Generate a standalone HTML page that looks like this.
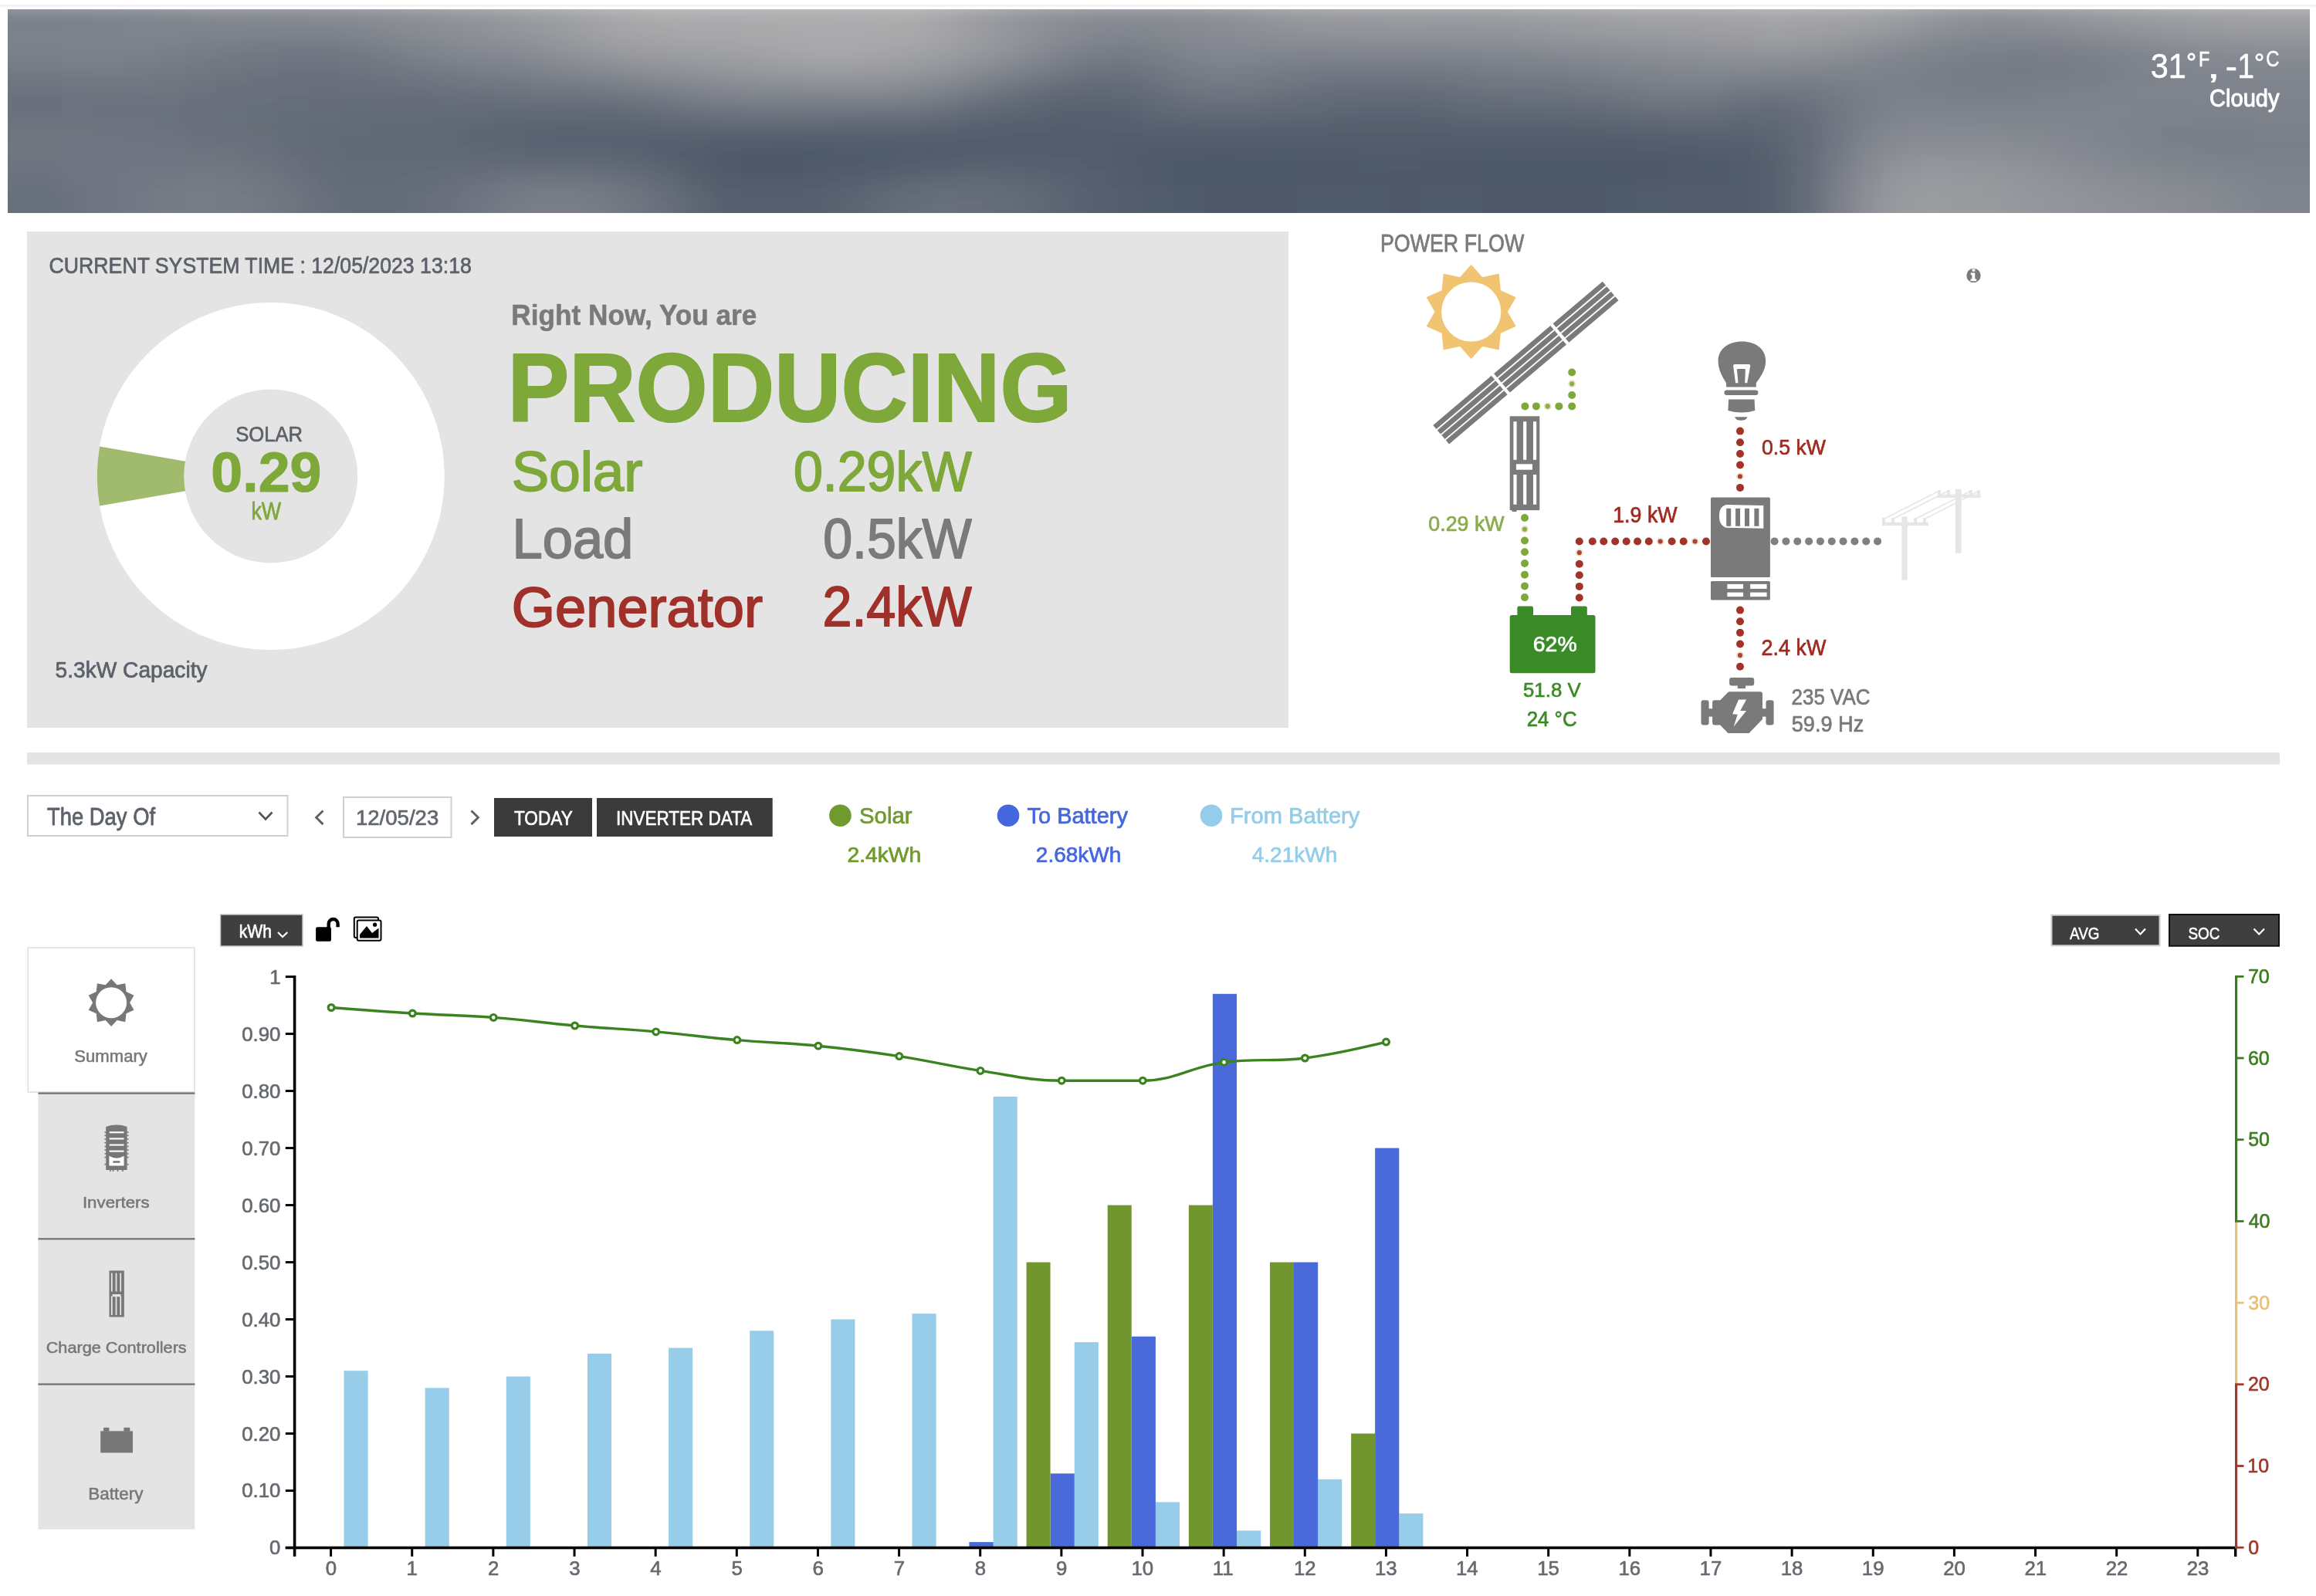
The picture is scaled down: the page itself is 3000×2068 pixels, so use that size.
<!DOCTYPE html>
<html><head><meta charset="utf-8"><title>Power Dashboard</title>
<style>
html,body{margin:0;padding:0;background:#fff;overflow:hidden;}
svg{display:block;font-family:"Liberation Sans",sans-serif;will-change:transform;}
</style></head><body>
<svg width="3000" height="2068" viewBox="0 0 3000 2068">
<defs>
<clipPath id="bannerClip"><rect x="10" y="12" width="2982" height="264"/></clipPath>
<filter id="blur40" x="-10%" y="-50%" width="120%" height="200%"><feGaussianBlur stdDeviation="14"/></filter>
<filter id="blur20" x="-50%" y="-50%" width="200%" height="200%"><feGaussianBlur stdDeviation="20"/></filter>
<linearGradient id="bannerBase" x1="0" y1="0" x2="0" y2="1">
<stop offset="0" stop-color="#858a93"/><stop offset="0.45" stop-color="#66707d"/><stop offset="1" stop-color="#5c6674"/>
</linearGradient>
</defs>
<rect x="0.00" y="6.50" width="3000.00" height="2.00" fill="#efefef" />
<g clip-path="url(#bannerClip)">
<g filter="url(#blur40)">
<rect x="-40.00" y="0.00" width="40.60" height="22.60" fill="#7a8089" />
<rect x="0.00" y="0.00" width="40.60" height="22.60" fill="#7a8089" />
<rect x="40.00" y="0.00" width="40.60" height="22.60" fill="#7a8089" />
<rect x="80.00" y="0.00" width="40.60" height="22.60" fill="#7c818a" />
<rect x="120.00" y="0.00" width="40.60" height="22.60" fill="#7d828b" />
<rect x="160.00" y="0.00" width="40.60" height="22.60" fill="#7e838c" />
<rect x="200.00" y="0.00" width="40.60" height="22.60" fill="#80858d" />
<rect x="240.00" y="0.00" width="40.60" height="22.60" fill="#82868e" />
<rect x="280.00" y="0.00" width="40.60" height="22.60" fill="#83878f" />
<rect x="320.00" y="0.00" width="40.60" height="22.60" fill="#848890" />
<rect x="360.00" y="0.00" width="40.60" height="22.60" fill="#848890" />
<rect x="400.00" y="0.00" width="40.60" height="22.60" fill="#858991" />
<rect x="440.00" y="0.00" width="40.60" height="22.60" fill="#868a92" />
<rect x="480.00" y="0.00" width="40.60" height="22.60" fill="#898c94" />
<rect x="520.00" y="0.00" width="40.60" height="22.60" fill="#8c8f96" />
<rect x="560.00" y="0.00" width="40.60" height="22.60" fill="#8f9298" />
<rect x="600.00" y="0.00" width="40.60" height="22.60" fill="#92959a" />
<rect x="640.00" y="0.00" width="40.60" height="22.60" fill="#96989d" />
<rect x="680.00" y="0.00" width="40.60" height="22.60" fill="#9a9ca0" />
<rect x="720.00" y="0.00" width="40.60" height="22.60" fill="#9fa0a4" />
<rect x="760.00" y="0.00" width="40.60" height="22.60" fill="#a4a5a8" />
<rect x="800.00" y="0.00" width="40.60" height="22.60" fill="#a8a8aa" />
<rect x="840.00" y="0.00" width="40.60" height="22.60" fill="#aaaaac" />
<rect x="880.00" y="0.00" width="40.60" height="22.60" fill="#ababad" />
<rect x="920.00" y="0.00" width="40.60" height="22.60" fill="#acacae" />
<rect x="960.00" y="0.00" width="40.60" height="22.60" fill="#acacae" />
<rect x="1000.00" y="0.00" width="40.60" height="22.60" fill="#ababad" />
<rect x="1040.00" y="0.00" width="40.60" height="22.60" fill="#ababad" />
<rect x="1080.00" y="0.00" width="40.60" height="22.60" fill="#acacae" />
<rect x="1120.00" y="0.00" width="40.60" height="22.60" fill="#acacae" />
<rect x="1160.00" y="0.00" width="40.60" height="22.60" fill="#aaaaac" />
<rect x="1200.00" y="0.00" width="40.60" height="22.60" fill="#a5a6a8" />
<rect x="1240.00" y="0.00" width="40.60" height="22.60" fill="#9d9ea2" />
<rect x="1280.00" y="0.00" width="40.60" height="22.60" fill="#95979d" />
<rect x="1320.00" y="0.00" width="40.60" height="22.60" fill="#8f9298" />
<rect x="1360.00" y="0.00" width="40.60" height="22.60" fill="#8b8e95" />
<rect x="1400.00" y="0.00" width="40.60" height="22.60" fill="#888c93" />
<rect x="1440.00" y="0.00" width="40.60" height="22.60" fill="#878b92" />
<rect x="1480.00" y="0.00" width="40.60" height="22.60" fill="#878b92" />
<rect x="1520.00" y="0.00" width="40.60" height="22.60" fill="#898c93" />
<rect x="1560.00" y="0.00" width="40.60" height="22.60" fill="#8b8f95" />
<rect x="1600.00" y="0.00" width="40.60" height="22.60" fill="#8f9298" />
<rect x="1640.00" y="0.00" width="40.60" height="22.60" fill="#93969b" />
<rect x="1680.00" y="0.00" width="40.60" height="22.60" fill="#96989d" />
<rect x="1720.00" y="0.00" width="40.60" height="22.60" fill="#989a9e" />
<rect x="1760.00" y="0.00" width="40.60" height="22.60" fill="#989a9f" />
<rect x="1800.00" y="0.00" width="40.60" height="22.60" fill="#999b9f" />
<rect x="1840.00" y="0.00" width="40.60" height="22.60" fill="#989a9f" />
<rect x="1880.00" y="0.00" width="40.60" height="22.60" fill="#989a9f" />
<rect x="1920.00" y="0.00" width="40.60" height="22.60" fill="#999b9f" />
<rect x="1960.00" y="0.00" width="40.60" height="22.60" fill="#9a9ca0" />
<rect x="2000.00" y="0.00" width="40.60" height="22.60" fill="#9c9ea2" />
<rect x="2040.00" y="0.00" width="40.60" height="22.60" fill="#9e9fa3" />
<rect x="2080.00" y="0.00" width="40.60" height="22.60" fill="#a0a1a4" />
<rect x="2120.00" y="0.00" width="40.60" height="22.60" fill="#a1a2a5" />
<rect x="2160.00" y="0.00" width="40.60" height="22.60" fill="#a1a2a6" />
<rect x="2200.00" y="0.00" width="40.60" height="22.60" fill="#a2a3a6" />
<rect x="2240.00" y="0.00" width="40.60" height="22.60" fill="#a3a4a7" />
<rect x="2280.00" y="0.00" width="40.60" height="22.60" fill="#a4a5a7" />
<rect x="2320.00" y="0.00" width="40.60" height="22.60" fill="#a4a4a7" />
<rect x="2360.00" y="0.00" width="40.60" height="22.60" fill="#a3a3a6" />
<rect x="2400.00" y="0.00" width="40.60" height="22.60" fill="#a0a1a5" />
<rect x="2440.00" y="0.00" width="40.60" height="22.60" fill="#9b9da1" />
<rect x="2480.00" y="0.00" width="40.60" height="22.60" fill="#95979c" />
<rect x="2520.00" y="0.00" width="40.60" height="22.60" fill="#8f9298" />
<rect x="2560.00" y="0.00" width="40.60" height="22.60" fill="#8d9096" />
<rect x="2600.00" y="0.00" width="40.60" height="22.60" fill="#8e9197" />
<rect x="2640.00" y="0.00" width="40.60" height="22.60" fill="#919499" />
<rect x="2680.00" y="0.00" width="40.60" height="22.60" fill="#94969c" />
<rect x="2720.00" y="0.00" width="40.60" height="22.60" fill="#97999e" />
<rect x="2760.00" y="0.00" width="40.60" height="22.60" fill="#9a9ca0" />
<rect x="2800.00" y="0.00" width="40.60" height="22.60" fill="#9c9ea2" />
<rect x="2840.00" y="0.00" width="40.60" height="22.60" fill="#9ea0a3" />
<rect x="2880.00" y="0.00" width="40.60" height="22.60" fill="#a0a1a4" />
<rect x="2920.00" y="0.00" width="40.60" height="22.60" fill="#a0a1a5" />
<rect x="2960.00" y="0.00" width="40.60" height="22.60" fill="#a0a1a5" />
<rect x="3000.00" y="0.00" width="40.60" height="22.60" fill="#a0a1a5" />
<rect x="-40.00" y="22.00" width="40.60" height="22.60" fill="#7b8089" />
<rect x="0.00" y="22.00" width="40.60" height="22.60" fill="#7b8089" />
<rect x="40.00" y="22.00" width="40.60" height="22.60" fill="#7b8089" />
<rect x="80.00" y="22.00" width="40.60" height="22.60" fill="#7c818a" />
<rect x="120.00" y="22.00" width="40.60" height="22.60" fill="#7d828b" />
<rect x="160.00" y="22.00" width="40.60" height="22.60" fill="#7f838c" />
<rect x="200.00" y="22.00" width="40.60" height="22.60" fill="#80848d" />
<rect x="240.00" y="22.00" width="40.60" height="22.60" fill="#81868e" />
<rect x="280.00" y="22.00" width="40.60" height="22.60" fill="#82868f" />
<rect x="320.00" y="22.00" width="40.60" height="22.60" fill="#83878f" />
<rect x="360.00" y="22.00" width="40.60" height="22.60" fill="#83878f" />
<rect x="400.00" y="22.00" width="40.60" height="22.60" fill="#848890" />
<rect x="440.00" y="22.00" width="40.60" height="22.60" fill="#858991" />
<rect x="480.00" y="22.00" width="40.60" height="22.60" fill="#888c93" />
<rect x="520.00" y="22.00" width="40.60" height="22.60" fill="#8b8e95" />
<rect x="560.00" y="22.00" width="40.60" height="22.60" fill="#8e9197" />
<rect x="600.00" y="22.00" width="40.60" height="22.60" fill="#91949a" />
<rect x="640.00" y="22.00" width="40.60" height="22.60" fill="#95979c" />
<rect x="680.00" y="22.00" width="40.60" height="22.60" fill="#999ba0" />
<rect x="720.00" y="22.00" width="40.60" height="22.60" fill="#9ea0a3" />
<rect x="760.00" y="22.00" width="40.60" height="22.60" fill="#a4a4a7" />
<rect x="800.00" y="22.00" width="40.60" height="22.60" fill="#a7a8aa" />
<rect x="840.00" y="22.00" width="40.60" height="22.60" fill="#aaaaac" />
<rect x="880.00" y="22.00" width="40.60" height="22.60" fill="#ababad" />
<rect x="920.00" y="22.00" width="40.60" height="22.60" fill="#ababad" />
<rect x="960.00" y="22.00" width="40.60" height="22.60" fill="#ababad" />
<rect x="1000.00" y="22.00" width="40.60" height="22.60" fill="#acacae" />
<rect x="1040.00" y="22.00" width="40.60" height="22.60" fill="#acacae" />
<rect x="1080.00" y="22.00" width="40.60" height="22.60" fill="#acacae" />
<rect x="1120.00" y="22.00" width="40.60" height="22.60" fill="#acacae" />
<rect x="1160.00" y="22.00" width="40.60" height="22.60" fill="#aaaaac" />
<rect x="1200.00" y="22.00" width="40.60" height="22.60" fill="#a5a5a8" />
<rect x="1240.00" y="22.00" width="40.60" height="22.60" fill="#9d9ea2" />
<rect x="1280.00" y="22.00" width="40.60" height="22.60" fill="#95989d" />
<rect x="1320.00" y="22.00" width="40.60" height="22.60" fill="#8f9298" />
<rect x="1360.00" y="22.00" width="40.60" height="22.60" fill="#8b8e95" />
<rect x="1400.00" y="22.00" width="40.60" height="22.60" fill="#888b93" />
<rect x="1440.00" y="22.00" width="40.60" height="22.60" fill="#868a92" />
<rect x="1480.00" y="22.00" width="40.60" height="22.60" fill="#878b92" />
<rect x="1520.00" y="22.00" width="40.60" height="22.60" fill="#888c93" />
<rect x="1560.00" y="22.00" width="40.60" height="22.60" fill="#8b8e95" />
<rect x="1600.00" y="22.00" width="40.60" height="22.60" fill="#8e9198" />
<rect x="1640.00" y="22.00" width="40.60" height="22.60" fill="#92959a" />
<rect x="1680.00" y="22.00" width="40.60" height="22.60" fill="#95979c" />
<rect x="1720.00" y="22.00" width="40.60" height="22.60" fill="#96989d" />
<rect x="1760.00" y="22.00" width="40.60" height="22.60" fill="#97999e" />
<rect x="1800.00" y="22.00" width="40.60" height="22.60" fill="#97999e" />
<rect x="1840.00" y="22.00" width="40.60" height="22.60" fill="#97999e" />
<rect x="1880.00" y="22.00" width="40.60" height="22.60" fill="#97999e" />
<rect x="1920.00" y="22.00" width="40.60" height="22.60" fill="#97999e" />
<rect x="1960.00" y="22.00" width="40.60" height="22.60" fill="#999b9f" />
<rect x="2000.00" y="22.00" width="40.60" height="22.60" fill="#9b9da1" />
<rect x="2040.00" y="22.00" width="40.60" height="22.60" fill="#9d9ea2" />
<rect x="2080.00" y="22.00" width="40.60" height="22.60" fill="#9ea0a3" />
<rect x="2120.00" y="22.00" width="40.60" height="22.60" fill="#9fa0a4" />
<rect x="2160.00" y="22.00" width="40.60" height="22.60" fill="#a0a1a5" />
<rect x="2200.00" y="22.00" width="40.60" height="22.60" fill="#a1a2a6" />
<rect x="2240.00" y="22.00" width="40.60" height="22.60" fill="#a3a3a6" />
<rect x="2280.00" y="22.00" width="40.60" height="22.60" fill="#a3a4a7" />
<rect x="2320.00" y="22.00" width="40.60" height="22.60" fill="#a3a3a6" />
<rect x="2360.00" y="22.00" width="40.60" height="22.60" fill="#a1a2a5" />
<rect x="2400.00" y="22.00" width="40.60" height="22.60" fill="#9ea0a3" />
<rect x="2440.00" y="22.00" width="40.60" height="22.60" fill="#9a9ba0" />
<rect x="2480.00" y="22.00" width="40.60" height="22.60" fill="#93969b" />
<rect x="2520.00" y="22.00" width="40.60" height="22.60" fill="#8e9197" />
<rect x="2560.00" y="22.00" width="40.60" height="22.60" fill="#8b8f95" />
<rect x="2600.00" y="22.00" width="40.60" height="22.60" fill="#8c8f96" />
<rect x="2640.00" y="22.00" width="40.60" height="22.60" fill="#8f9298" />
<rect x="2680.00" y="22.00" width="40.60" height="22.60" fill="#92959a" />
<rect x="2720.00" y="22.00" width="40.60" height="22.60" fill="#95979d" />
<rect x="2760.00" y="22.00" width="40.60" height="22.60" fill="#989a9f" />
<rect x="2800.00" y="22.00" width="40.60" height="22.60" fill="#9b9ca1" />
<rect x="2840.00" y="22.00" width="40.60" height="22.60" fill="#9d9ea2" />
<rect x="2880.00" y="22.00" width="40.60" height="22.60" fill="#9e9fa3" />
<rect x="2920.00" y="22.00" width="40.60" height="22.60" fill="#9fa0a4" />
<rect x="2960.00" y="22.00" width="40.60" height="22.60" fill="#9fa0a4" />
<rect x="3000.00" y="22.00" width="40.60" height="22.60" fill="#9fa0a4" />
<rect x="-40.00" y="44.00" width="40.60" height="22.60" fill="#7d828b" />
<rect x="0.00" y="44.00" width="40.60" height="22.60" fill="#7d828b" />
<rect x="40.00" y="44.00" width="40.60" height="22.60" fill="#7d828b" />
<rect x="80.00" y="44.00" width="40.60" height="22.60" fill="#7e838c" />
<rect x="120.00" y="44.00" width="40.60" height="22.60" fill="#7e838c" />
<rect x="160.00" y="44.00" width="40.60" height="22.60" fill="#7e838c" />
<rect x="200.00" y="44.00" width="40.60" height="22.60" fill="#7d828b" />
<rect x="240.00" y="44.00" width="40.60" height="22.60" fill="#7b8089" />
<rect x="280.00" y="44.00" width="40.60" height="22.60" fill="#797e88" />
<rect x="320.00" y="44.00" width="40.60" height="22.60" fill="#777d87" />
<rect x="360.00" y="44.00" width="40.60" height="22.60" fill="#767c86" />
<rect x="400.00" y="44.00" width="40.60" height="22.60" fill="#767c86" />
<rect x="440.00" y="44.00" width="40.60" height="22.60" fill="#797e88" />
<rect x="480.00" y="44.00" width="40.60" height="22.60" fill="#7d828b" />
<rect x="520.00" y="44.00" width="40.60" height="22.60" fill="#82878f" />
<rect x="560.00" y="44.00" width="40.60" height="22.60" fill="#868a92" />
<rect x="600.00" y="44.00" width="40.60" height="22.60" fill="#898d94" />
<rect x="640.00" y="44.00" width="40.60" height="22.60" fill="#8c8f96" />
<rect x="680.00" y="44.00" width="40.60" height="22.60" fill="#909399" />
<rect x="720.00" y="44.00" width="40.60" height="22.60" fill="#96989d" />
<rect x="760.00" y="44.00" width="40.60" height="22.60" fill="#9c9ea2" />
<rect x="800.00" y="44.00" width="40.60" height="22.60" fill="#a0a1a5" />
<rect x="840.00" y="44.00" width="40.60" height="22.60" fill="#a3a3a6" />
<rect x="880.00" y="44.00" width="40.60" height="22.60" fill="#a3a4a7" />
<rect x="920.00" y="44.00" width="40.60" height="22.60" fill="#a5a5a8" />
<rect x="960.00" y="44.00" width="40.60" height="22.60" fill="#a7a7a9" />
<rect x="1000.00" y="44.00" width="40.60" height="22.60" fill="#a9a9ab" />
<rect x="1040.00" y="44.00" width="40.60" height="22.60" fill="#ababad" />
<rect x="1080.00" y="44.00" width="40.60" height="22.60" fill="#ababad" />
<rect x="1120.00" y="44.00" width="40.60" height="22.60" fill="#a9a9ab" />
<rect x="1160.00" y="44.00" width="40.60" height="22.60" fill="#a6a7a9" />
<rect x="1200.00" y="44.00" width="40.60" height="22.60" fill="#a2a3a6" />
<rect x="1240.00" y="44.00" width="40.60" height="22.60" fill="#9b9da1" />
<rect x="1280.00" y="44.00" width="40.60" height="22.60" fill="#94969c" />
<rect x="1320.00" y="44.00" width="40.60" height="22.60" fill="#8c8f96" />
<rect x="1360.00" y="44.00" width="40.60" height="22.60" fill="#848890" />
<rect x="1400.00" y="44.00" width="40.60" height="22.60" fill="#7e838c" />
<rect x="1440.00" y="44.00" width="40.60" height="22.60" fill="#7c818a" />
<rect x="1480.00" y="44.00" width="40.60" height="22.60" fill="#7f848c" />
<rect x="1520.00" y="44.00" width="40.60" height="22.60" fill="#83878f" />
<rect x="1560.00" y="44.00" width="40.60" height="22.60" fill="#858991" />
<rect x="1600.00" y="44.00" width="40.60" height="22.60" fill="#878a92" />
<rect x="1640.00" y="44.00" width="40.60" height="22.60" fill="#878b92" />
<rect x="1680.00" y="44.00" width="40.60" height="22.60" fill="#878b92" />
<rect x="1720.00" y="44.00" width="40.60" height="22.60" fill="#888c93" />
<rect x="1760.00" y="44.00" width="40.60" height="22.60" fill="#898c93" />
<rect x="1800.00" y="44.00" width="40.60" height="22.60" fill="#898d94" />
<rect x="1840.00" y="44.00" width="40.60" height="22.60" fill="#898d94" />
<rect x="1880.00" y="44.00" width="40.60" height="22.60" fill="#898d94" />
<rect x="1920.00" y="44.00" width="40.60" height="22.60" fill="#8a8d94" />
<rect x="1960.00" y="44.00" width="40.60" height="22.60" fill="#8b8f95" />
<rect x="2000.00" y="44.00" width="40.60" height="22.60" fill="#8e9197" />
<rect x="2040.00" y="44.00" width="40.60" height="22.60" fill="#8f9298" />
<rect x="2080.00" y="44.00" width="40.60" height="22.60" fill="#91949a" />
<rect x="2120.00" y="44.00" width="40.60" height="22.60" fill="#92959a" />
<rect x="2160.00" y="44.00" width="40.60" height="22.60" fill="#94969c" />
<rect x="2200.00" y="44.00" width="40.60" height="22.60" fill="#96989d" />
<rect x="2240.00" y="44.00" width="40.60" height="22.60" fill="#989a9f" />
<rect x="2280.00" y="44.00" width="40.60" height="22.60" fill="#999ba0" />
<rect x="2320.00" y="44.00" width="40.60" height="22.60" fill="#989a9e" />
<rect x="2360.00" y="44.00" width="40.60" height="22.60" fill="#94969b" />
<rect x="2400.00" y="44.00" width="40.60" height="22.60" fill="#8e9198" />
<rect x="2440.00" y="44.00" width="40.60" height="22.60" fill="#898d94" />
<rect x="2480.00" y="44.00" width="40.60" height="22.60" fill="#848990" />
<rect x="2520.00" y="44.00" width="40.60" height="22.60" fill="#80858d" />
<rect x="2560.00" y="44.00" width="40.60" height="22.60" fill="#7e838c" />
<rect x="2600.00" y="44.00" width="40.60" height="22.60" fill="#7e838b" />
<rect x="2640.00" y="44.00" width="40.60" height="22.60" fill="#7f838c" />
<rect x="2680.00" y="44.00" width="40.60" height="22.60" fill="#81858e" />
<rect x="2720.00" y="44.00" width="40.60" height="22.60" fill="#848890" />
<rect x="2760.00" y="44.00" width="40.60" height="22.60" fill="#878b92" />
<rect x="2800.00" y="44.00" width="40.60" height="22.60" fill="#8a8e95" />
<rect x="2840.00" y="44.00" width="40.60" height="22.60" fill="#8c9096" />
<rect x="2880.00" y="44.00" width="40.60" height="22.60" fill="#8e9197" />
<rect x="2920.00" y="44.00" width="40.60" height="22.60" fill="#8f9298" />
<rect x="2960.00" y="44.00" width="40.60" height="22.60" fill="#8f9298" />
<rect x="3000.00" y="44.00" width="40.60" height="22.60" fill="#8f9298" />
<rect x="-40.00" y="66.00" width="40.60" height="22.60" fill="#7a7f88" />
<rect x="0.00" y="66.00" width="40.60" height="22.60" fill="#7a7f88" />
<rect x="40.00" y="66.00" width="40.60" height="22.60" fill="#7a7f88" />
<rect x="80.00" y="66.00" width="40.60" height="22.60" fill="#7b8089" />
<rect x="120.00" y="66.00" width="40.60" height="22.60" fill="#7b8089" />
<rect x="160.00" y="66.00" width="40.60" height="22.60" fill="#7a7f89" />
<rect x="200.00" y="66.00" width="40.60" height="22.60" fill="#787d87" />
<rect x="240.00" y="66.00" width="40.60" height="22.60" fill="#757a85" />
<rect x="280.00" y="66.00" width="40.60" height="22.60" fill="#717882" />
<rect x="320.00" y="66.00" width="40.60" height="22.60" fill="#6f7681" />
<rect x="360.00" y="66.00" width="40.60" height="22.60" fill="#6e7480" />
<rect x="400.00" y="66.00" width="40.60" height="22.60" fill="#6e7480" />
<rect x="440.00" y="66.00" width="40.60" height="22.60" fill="#707681" />
<rect x="480.00" y="66.00" width="40.60" height="22.60" fill="#747a85" />
<rect x="520.00" y="66.00" width="40.60" height="22.60" fill="#797f88" />
<rect x="560.00" y="66.00" width="40.60" height="22.60" fill="#7d828b" />
<rect x="600.00" y="66.00" width="40.60" height="22.60" fill="#80848d" />
<rect x="640.00" y="66.00" width="40.60" height="22.60" fill="#82868f" />
<rect x="680.00" y="66.00" width="40.60" height="22.60" fill="#868a91" />
<rect x="720.00" y="66.00" width="40.60" height="22.60" fill="#8b8e95" />
<rect x="760.00" y="66.00" width="40.60" height="22.60" fill="#909399" />
<rect x="800.00" y="66.00" width="40.60" height="22.60" fill="#95979c" />
<rect x="840.00" y="66.00" width="40.60" height="22.60" fill="#97999e" />
<rect x="880.00" y="66.00" width="40.60" height="22.60" fill="#999b9f" />
<rect x="920.00" y="66.00" width="40.60" height="22.60" fill="#9b9da1" />
<rect x="960.00" y="66.00" width="40.60" height="22.60" fill="#9e9fa3" />
<rect x="1000.00" y="66.00" width="40.60" height="22.60" fill="#a1a2a5" />
<rect x="1040.00" y="66.00" width="40.60" height="22.60" fill="#a3a4a7" />
<rect x="1080.00" y="66.00" width="40.60" height="22.60" fill="#a3a4a7" />
<rect x="1120.00" y="66.00" width="40.60" height="22.60" fill="#a1a2a5" />
<rect x="1160.00" y="66.00" width="40.60" height="22.60" fill="#9e9fa3" />
<rect x="1200.00" y="66.00" width="40.60" height="22.60" fill="#999ba0" />
<rect x="1240.00" y="66.00" width="40.60" height="22.60" fill="#93959b" />
<rect x="1280.00" y="66.00" width="40.60" height="22.60" fill="#8b8f95" />
<rect x="1320.00" y="66.00" width="40.60" height="22.60" fill="#83878f" />
<rect x="1360.00" y="66.00" width="40.60" height="22.60" fill="#7a7f89" />
<rect x="1400.00" y="66.00" width="40.60" height="22.60" fill="#747a84" />
<rect x="1440.00" y="66.00" width="40.60" height="22.60" fill="#737983" />
<rect x="1480.00" y="66.00" width="40.60" height="22.60" fill="#777d86" />
<rect x="1520.00" y="66.00" width="40.60" height="22.60" fill="#7c818a" />
<rect x="1560.00" y="66.00" width="40.60" height="22.60" fill="#7f848c" />
<rect x="1600.00" y="66.00" width="40.60" height="22.60" fill="#7e838c" />
<rect x="1640.00" y="66.00" width="40.60" height="22.60" fill="#7c818a" />
<rect x="1680.00" y="66.00" width="40.60" height="22.60" fill="#7b808a" />
<rect x="1720.00" y="66.00" width="40.60" height="22.60" fill="#7b8089" />
<rect x="1760.00" y="66.00" width="40.60" height="22.60" fill="#7b8089" />
<rect x="1800.00" y="66.00" width="40.60" height="22.60" fill="#7b808a" />
<rect x="1840.00" y="66.00" width="40.60" height="22.60" fill="#7c818a" />
<rect x="1880.00" y="66.00" width="40.60" height="22.60" fill="#7d828b" />
<rect x="1920.00" y="66.00" width="40.60" height="22.60" fill="#7e838b" />
<rect x="1960.00" y="66.00" width="40.60" height="22.60" fill="#7f848d" />
<rect x="2000.00" y="66.00" width="40.60" height="22.60" fill="#81868e" />
<rect x="2040.00" y="66.00" width="40.60" height="22.60" fill="#83878f" />
<rect x="2080.00" y="66.00" width="40.60" height="22.60" fill="#858991" />
<rect x="2120.00" y="66.00" width="40.60" height="22.60" fill="#878b92" />
<rect x="2160.00" y="66.00" width="40.60" height="22.60" fill="#898c93" />
<rect x="2200.00" y="66.00" width="40.60" height="22.60" fill="#8a8e95" />
<rect x="2240.00" y="66.00" width="40.60" height="22.60" fill="#8c8f96" />
<rect x="2280.00" y="66.00" width="40.60" height="22.60" fill="#8c9096" />
<rect x="2320.00" y="66.00" width="40.60" height="22.60" fill="#8b8e95" />
<rect x="2360.00" y="66.00" width="40.60" height="22.60" fill="#878b92" />
<rect x="2400.00" y="66.00" width="40.60" height="22.60" fill="#83878f" />
<rect x="2440.00" y="66.00" width="40.60" height="22.60" fill="#7f848c" />
<rect x="2480.00" y="66.00" width="40.60" height="22.60" fill="#7c818a" />
<rect x="2520.00" y="66.00" width="40.60" height="22.60" fill="#797e88" />
<rect x="2560.00" y="66.00" width="40.60" height="22.60" fill="#777d86" />
<rect x="2600.00" y="66.00" width="40.60" height="22.60" fill="#767c86" />
<rect x="2640.00" y="66.00" width="40.60" height="22.60" fill="#777c86" />
<rect x="2680.00" y="66.00" width="40.60" height="22.60" fill="#787e87" />
<rect x="2720.00" y="66.00" width="40.60" height="22.60" fill="#7b8089" />
<rect x="2760.00" y="66.00" width="40.60" height="22.60" fill="#7e838c" />
<rect x="2800.00" y="66.00" width="40.60" height="22.60" fill="#81858e" />
<rect x="2840.00" y="66.00" width="40.60" height="22.60" fill="#83878f" />
<rect x="2880.00" y="66.00" width="40.60" height="22.60" fill="#848890" />
<rect x="2920.00" y="66.00" width="40.60" height="22.60" fill="#858991" />
<rect x="2960.00" y="66.00" width="40.60" height="22.60" fill="#858991" />
<rect x="3000.00" y="66.00" width="40.60" height="22.60" fill="#858991" />
<rect x="-40.00" y="88.00" width="40.60" height="22.60" fill="#727883" />
<rect x="0.00" y="88.00" width="40.60" height="22.60" fill="#727883" />
<rect x="40.00" y="88.00" width="40.60" height="22.60" fill="#727883" />
<rect x="80.00" y="88.00" width="40.60" height="22.60" fill="#737984" />
<rect x="120.00" y="88.00" width="40.60" height="22.60" fill="#747a84" />
<rect x="160.00" y="88.00" width="40.60" height="22.60" fill="#737984" />
<rect x="200.00" y="88.00" width="40.60" height="22.60" fill="#717882" />
<rect x="240.00" y="88.00" width="40.60" height="22.60" fill="#6f7580" />
<rect x="280.00" y="88.00" width="40.60" height="22.60" fill="#6c737f" />
<rect x="320.00" y="88.00" width="40.60" height="22.60" fill="#6a717d" />
<rect x="360.00" y="88.00" width="40.60" height="22.60" fill="#69707c" />
<rect x="400.00" y="88.00" width="40.60" height="22.60" fill="#69707c" />
<rect x="440.00" y="88.00" width="40.60" height="22.60" fill="#6a717d" />
<rect x="480.00" y="88.00" width="40.60" height="22.60" fill="#6c737f" />
<rect x="520.00" y="88.00" width="40.60" height="22.60" fill="#6f7681" />
<rect x="560.00" y="88.00" width="40.60" height="22.60" fill="#727883" />
<rect x="600.00" y="88.00" width="40.60" height="22.60" fill="#747a85" />
<rect x="640.00" y="88.00" width="40.60" height="22.60" fill="#777c86" />
<rect x="680.00" y="88.00" width="40.60" height="22.60" fill="#797f88" />
<rect x="720.00" y="88.00" width="40.60" height="22.60" fill="#7d828b" />
<rect x="760.00" y="88.00" width="40.60" height="22.60" fill="#80858d" />
<rect x="800.00" y="88.00" width="40.60" height="22.60" fill="#848890" />
<rect x="840.00" y="88.00" width="40.60" height="22.60" fill="#888c93" />
<rect x="880.00" y="88.00" width="40.60" height="22.60" fill="#8b8f95" />
<rect x="920.00" y="88.00" width="40.60" height="22.60" fill="#8f9298" />
<rect x="960.00" y="88.00" width="40.60" height="22.60" fill="#91949a" />
<rect x="1000.00" y="88.00" width="40.60" height="22.60" fill="#93969b" />
<rect x="1040.00" y="88.00" width="40.60" height="22.60" fill="#94979c" />
<rect x="1080.00" y="88.00" width="40.60" height="22.60" fill="#95979c" />
<rect x="1120.00" y="88.00" width="40.60" height="22.60" fill="#94969c" />
<rect x="1160.00" y="88.00" width="40.60" height="22.60" fill="#91949a" />
<rect x="1200.00" y="88.00" width="40.60" height="22.60" fill="#8c8f96" />
<rect x="1240.00" y="88.00" width="40.60" height="22.60" fill="#848890" />
<rect x="1280.00" y="88.00" width="40.60" height="22.60" fill="#7c818a" />
<rect x="1320.00" y="88.00" width="40.60" height="22.60" fill="#747a84" />
<rect x="1360.00" y="88.00" width="40.60" height="22.60" fill="#6d737f" />
<rect x="1400.00" y="88.00" width="40.60" height="22.60" fill="#686f7c" />
<rect x="1440.00" y="88.00" width="40.60" height="22.60" fill="#69707c" />
<rect x="1480.00" y="88.00" width="40.60" height="22.60" fill="#6e7580" />
<rect x="1520.00" y="88.00" width="40.60" height="22.60" fill="#757a85" />
<rect x="1560.00" y="88.00" width="40.60" height="22.60" fill="#777d87" />
<rect x="1600.00" y="88.00" width="40.60" height="22.60" fill="#767c86" />
<rect x="1640.00" y="88.00" width="40.60" height="22.60" fill="#737983" />
<rect x="1680.00" y="88.00" width="40.60" height="22.60" fill="#707782" />
<rect x="1720.00" y="88.00" width="40.60" height="22.60" fill="#6f7581" />
<rect x="1760.00" y="88.00" width="40.60" height="22.60" fill="#6e7580" />
<rect x="1800.00" y="88.00" width="40.60" height="22.60" fill="#6f7580" />
<rect x="1840.00" y="88.00" width="40.60" height="22.60" fill="#707681" />
<rect x="1880.00" y="88.00" width="40.60" height="22.60" fill="#727883" />
<rect x="1920.00" y="88.00" width="40.60" height="22.60" fill="#747a84" />
<rect x="1960.00" y="88.00" width="40.60" height="22.60" fill="#757b85" />
<rect x="2000.00" y="88.00" width="40.60" height="22.60" fill="#767c86" />
<rect x="2040.00" y="88.00" width="40.60" height="22.60" fill="#787e87" />
<rect x="2080.00" y="88.00" width="40.60" height="22.60" fill="#7b8089" />
<rect x="2120.00" y="88.00" width="40.60" height="22.60" fill="#7d828b" />
<rect x="2160.00" y="88.00" width="40.60" height="22.60" fill="#7f848c" />
<rect x="2200.00" y="88.00" width="40.60" height="22.60" fill="#7f848d" />
<rect x="2240.00" y="88.00" width="40.60" height="22.60" fill="#7e838c" />
<rect x="2280.00" y="88.00" width="40.60" height="22.60" fill="#7d828b" />
<rect x="2320.00" y="88.00" width="40.60" height="22.60" fill="#7c818a" />
<rect x="2360.00" y="88.00" width="40.60" height="22.60" fill="#7c818a" />
<rect x="2400.00" y="88.00" width="40.60" height="22.60" fill="#7c818a" />
<rect x="2440.00" y="88.00" width="40.60" height="22.60" fill="#7b8089" />
<rect x="2480.00" y="88.00" width="40.60" height="22.60" fill="#797e88" />
<rect x="2520.00" y="88.00" width="40.60" height="22.60" fill="#777c86" />
<rect x="2560.00" y="88.00" width="40.60" height="22.60" fill="#767b85" />
<rect x="2600.00" y="88.00" width="40.60" height="22.60" fill="#767c86" />
<rect x="2640.00" y="88.00" width="40.60" height="22.60" fill="#777c86" />
<rect x="2680.00" y="88.00" width="40.60" height="22.60" fill="#787e87" />
<rect x="2720.00" y="88.00" width="40.60" height="22.60" fill="#7a8089" />
<rect x="2760.00" y="88.00" width="40.60" height="22.60" fill="#7d828b" />
<rect x="2800.00" y="88.00" width="40.60" height="22.60" fill="#7f838c" />
<rect x="2840.00" y="88.00" width="40.60" height="22.60" fill="#80848d" />
<rect x="2880.00" y="88.00" width="40.60" height="22.60" fill="#80858d" />
<rect x="2920.00" y="88.00" width="40.60" height="22.60" fill="#80858d" />
<rect x="2960.00" y="88.00" width="40.60" height="22.60" fill="#80858d" />
<rect x="3000.00" y="88.00" width="40.60" height="22.60" fill="#80858d" />
<rect x="-40.00" y="110.00" width="40.60" height="22.60" fill="#6a717d" />
<rect x="0.00" y="110.00" width="40.60" height="22.60" fill="#6a717d" />
<rect x="40.00" y="110.00" width="40.60" height="22.60" fill="#6a717d" />
<rect x="80.00" y="110.00" width="40.60" height="22.60" fill="#6c727e" />
<rect x="120.00" y="110.00" width="40.60" height="22.60" fill="#6c737f" />
<rect x="160.00" y="110.00" width="40.60" height="22.60" fill="#6c737f" />
<rect x="200.00" y="110.00" width="40.60" height="22.60" fill="#6c737e" />
<rect x="240.00" y="110.00" width="40.60" height="22.60" fill="#6a717d" />
<rect x="280.00" y="110.00" width="40.60" height="22.60" fill="#69707c" />
<rect x="320.00" y="110.00" width="40.60" height="22.60" fill="#686f7b" />
<rect x="360.00" y="110.00" width="40.60" height="22.60" fill="#676f7b" />
<rect x="400.00" y="110.00" width="40.60" height="22.60" fill="#676e7a" />
<rect x="440.00" y="110.00" width="40.60" height="22.60" fill="#666e7a" />
<rect x="480.00" y="110.00" width="40.60" height="22.60" fill="#666e7a" />
<rect x="520.00" y="110.00" width="40.60" height="22.60" fill="#676e7b" />
<rect x="560.00" y="110.00" width="40.60" height="22.60" fill="#686f7b" />
<rect x="600.00" y="110.00" width="40.60" height="22.60" fill="#6a717d" />
<rect x="640.00" y="110.00" width="40.60" height="22.60" fill="#6b727e" />
<rect x="680.00" y="110.00" width="40.60" height="22.60" fill="#6d747f" />
<rect x="720.00" y="110.00" width="40.60" height="22.60" fill="#6e7580" />
<rect x="760.00" y="110.00" width="40.60" height="22.60" fill="#707681" />
<rect x="800.00" y="110.00" width="40.60" height="22.60" fill="#727983" />
<rect x="840.00" y="110.00" width="40.60" height="22.60" fill="#777c86" />
<rect x="880.00" y="110.00" width="40.60" height="22.60" fill="#7c818a" />
<rect x="920.00" y="110.00" width="40.60" height="22.60" fill="#80848d" />
<rect x="960.00" y="110.00" width="40.60" height="22.60" fill="#82868e" />
<rect x="1000.00" y="110.00" width="40.60" height="22.60" fill="#82868e" />
<rect x="1040.00" y="110.00" width="40.60" height="22.60" fill="#82878f" />
<rect x="1080.00" y="110.00" width="40.60" height="22.60" fill="#83878f" />
<rect x="1120.00" y="110.00" width="40.60" height="22.60" fill="#83878f" />
<rect x="1160.00" y="110.00" width="40.60" height="22.60" fill="#80858d" />
<rect x="1200.00" y="110.00" width="40.60" height="22.60" fill="#7b8089" />
<rect x="1240.00" y="110.00" width="40.60" height="22.60" fill="#737983" />
<rect x="1280.00" y="110.00" width="40.60" height="22.60" fill="#6b727d" />
<rect x="1320.00" y="110.00" width="40.60" height="22.60" fill="#646c79" />
<rect x="1360.00" y="110.00" width="40.60" height="22.60" fill="#606875" />
<rect x="1400.00" y="110.00" width="40.60" height="22.60" fill="#5e6674" />
<rect x="1440.00" y="110.00" width="40.60" height="22.60" fill="#606876" />
<rect x="1480.00" y="110.00" width="40.60" height="22.60" fill="#666d7a" />
<rect x="1520.00" y="110.00" width="40.60" height="22.60" fill="#6c737e" />
<rect x="1560.00" y="110.00" width="40.60" height="22.60" fill="#6e7580" />
<rect x="1600.00" y="110.00" width="40.60" height="22.60" fill="#6d747f" />
<rect x="1640.00" y="110.00" width="40.60" height="22.60" fill="#6a717d" />
<rect x="1680.00" y="110.00" width="40.60" height="22.60" fill="#676e7b" />
<rect x="1720.00" y="110.00" width="40.60" height="22.60" fill="#656c79" />
<rect x="1760.00" y="110.00" width="40.60" height="22.60" fill="#636b78" />
<rect x="1800.00" y="110.00" width="40.60" height="22.60" fill="#636b78" />
<rect x="1840.00" y="110.00" width="40.60" height="22.60" fill="#656d79" />
<rect x="1880.00" y="110.00" width="40.60" height="22.60" fill="#686f7b" />
<rect x="1920.00" y="110.00" width="40.60" height="22.60" fill="#6a717d" />
<rect x="1960.00" y="110.00" width="40.60" height="22.60" fill="#6b727e" />
<rect x="2000.00" y="110.00" width="40.60" height="22.60" fill="#6c737e" />
<rect x="2040.00" y="110.00" width="40.60" height="22.60" fill="#6d747f" />
<rect x="2080.00" y="110.00" width="40.60" height="22.60" fill="#707782" />
<rect x="2120.00" y="110.00" width="40.60" height="22.60" fill="#747a84" />
<rect x="2160.00" y="110.00" width="40.60" height="22.60" fill="#767b85" />
<rect x="2200.00" y="110.00" width="40.60" height="22.60" fill="#747a84" />
<rect x="2240.00" y="110.00" width="40.60" height="22.60" fill="#707681" />
<rect x="2280.00" y="110.00" width="40.60" height="22.60" fill="#6e7480" />
<rect x="2320.00" y="110.00" width="40.60" height="22.60" fill="#6f7681" />
<rect x="2360.00" y="110.00" width="40.60" height="22.60" fill="#747a84" />
<rect x="2400.00" y="110.00" width="40.60" height="22.60" fill="#797e88" />
<rect x="2440.00" y="110.00" width="40.60" height="22.60" fill="#7b8089" />
<rect x="2480.00" y="110.00" width="40.60" height="22.60" fill="#7a8089" />
<rect x="2520.00" y="110.00" width="40.60" height="22.60" fill="#797e88" />
<rect x="2560.00" y="110.00" width="40.60" height="22.60" fill="#787e88" />
<rect x="2600.00" y="110.00" width="40.60" height="22.60" fill="#797f88" />
<rect x="2640.00" y="110.00" width="40.60" height="22.60" fill="#7b8089" />
<rect x="2680.00" y="110.00" width="40.60" height="22.60" fill="#7c818a" />
<rect x="2720.00" y="110.00" width="40.60" height="22.60" fill="#7d828b" />
<rect x="2760.00" y="110.00" width="40.60" height="22.60" fill="#7e838c" />
<rect x="2800.00" y="110.00" width="40.60" height="22.60" fill="#7f848c" />
<rect x="2840.00" y="110.00" width="40.60" height="22.60" fill="#7f848d" />
<rect x="2880.00" y="110.00" width="40.60" height="22.60" fill="#7f848d" />
<rect x="2920.00" y="110.00" width="40.60" height="22.60" fill="#7f848c" />
<rect x="2960.00" y="110.00" width="40.60" height="22.60" fill="#7f848c" />
<rect x="3000.00" y="110.00" width="40.60" height="22.60" fill="#7f848c" />
<rect x="-40.00" y="132.00" width="40.60" height="22.60" fill="#69707c" />
<rect x="0.00" y="132.00" width="40.60" height="22.60" fill="#69707c" />
<rect x="40.00" y="132.00" width="40.60" height="22.60" fill="#69707c" />
<rect x="80.00" y="132.00" width="40.60" height="22.60" fill="#6a717d" />
<rect x="120.00" y="132.00" width="40.60" height="22.60" fill="#6a717d" />
<rect x="160.00" y="132.00" width="40.60" height="22.60" fill="#6a717d" />
<rect x="200.00" y="132.00" width="40.60" height="22.60" fill="#6a717d" />
<rect x="240.00" y="132.00" width="40.60" height="22.60" fill="#69707c" />
<rect x="280.00" y="132.00" width="40.60" height="22.60" fill="#676f7b" />
<rect x="320.00" y="132.00" width="40.60" height="22.60" fill="#666e7a" />
<rect x="360.00" y="132.00" width="40.60" height="22.60" fill="#656d7a" />
<rect x="400.00" y="132.00" width="40.60" height="22.60" fill="#646c79" />
<rect x="440.00" y="132.00" width="40.60" height="22.60" fill="#636b78" />
<rect x="480.00" y="132.00" width="40.60" height="22.60" fill="#636a77" />
<rect x="520.00" y="132.00" width="40.60" height="22.60" fill="#626a77" />
<rect x="560.00" y="132.00" width="40.60" height="22.60" fill="#626a77" />
<rect x="600.00" y="132.00" width="40.60" height="22.60" fill="#626a77" />
<rect x="640.00" y="132.00" width="40.60" height="22.60" fill="#626a77" />
<rect x="680.00" y="132.00" width="40.60" height="22.60" fill="#626a77" />
<rect x="720.00" y="132.00" width="40.60" height="22.60" fill="#626a77" />
<rect x="760.00" y="132.00" width="40.60" height="22.60" fill="#626a77" />
<rect x="800.00" y="132.00" width="40.60" height="22.60" fill="#646c79" />
<rect x="840.00" y="132.00" width="40.60" height="22.60" fill="#686f7b" />
<rect x="880.00" y="132.00" width="40.60" height="22.60" fill="#6c737e" />
<rect x="920.00" y="132.00" width="40.60" height="22.60" fill="#6f7580" />
<rect x="960.00" y="132.00" width="40.60" height="22.60" fill="#707681" />
<rect x="1000.00" y="132.00" width="40.60" height="22.60" fill="#6f7681" />
<rect x="1040.00" y="132.00" width="40.60" height="22.60" fill="#6f7681" />
<rect x="1080.00" y="132.00" width="40.60" height="22.60" fill="#6f7681" />
<rect x="1120.00" y="132.00" width="40.60" height="22.60" fill="#6f7681" />
<rect x="1160.00" y="132.00" width="40.60" height="22.60" fill="#6e7480" />
<rect x="1200.00" y="132.00" width="40.60" height="22.60" fill="#6a717d" />
<rect x="1240.00" y="132.00" width="40.60" height="22.60" fill="#636b78" />
<rect x="1280.00" y="132.00" width="40.60" height="22.60" fill="#5e6674" />
<rect x="1320.00" y="132.00" width="40.60" height="22.60" fill="#5a6371" />
<rect x="1360.00" y="132.00" width="40.60" height="22.60" fill="#58616f" />
<rect x="1400.00" y="132.00" width="40.60" height="22.60" fill="#57606f" />
<rect x="1440.00" y="132.00" width="40.60" height="22.60" fill="#596271" />
<rect x="1480.00" y="132.00" width="40.60" height="22.60" fill="#5e6674" />
<rect x="1520.00" y="132.00" width="40.60" height="22.60" fill="#626a77" />
<rect x="1560.00" y="132.00" width="40.60" height="22.60" fill="#646b78" />
<rect x="1600.00" y="132.00" width="40.60" height="22.60" fill="#636a78" />
<rect x="1640.00" y="132.00" width="40.60" height="22.60" fill="#606876" />
<rect x="1680.00" y="132.00" width="40.60" height="22.60" fill="#5e6774" />
<rect x="1720.00" y="132.00" width="40.60" height="22.60" fill="#5c6573" />
<rect x="1760.00" y="132.00" width="40.60" height="22.60" fill="#5b6472" />
<rect x="1800.00" y="132.00" width="40.60" height="22.60" fill="#5b6472" />
<rect x="1840.00" y="132.00" width="40.60" height="22.60" fill="#5d6573" />
<rect x="1880.00" y="132.00" width="40.60" height="22.60" fill="#5f6775" />
<rect x="1920.00" y="132.00" width="40.60" height="22.60" fill="#616976" />
<rect x="1960.00" y="132.00" width="40.60" height="22.60" fill="#616977" />
<rect x="2000.00" y="132.00" width="40.60" height="22.60" fill="#616977" />
<rect x="2040.00" y="132.00" width="40.60" height="22.60" fill="#636a77" />
<rect x="2080.00" y="132.00" width="40.60" height="22.60" fill="#656d79" />
<rect x="2120.00" y="132.00" width="40.60" height="22.60" fill="#68707c" />
<rect x="2160.00" y="132.00" width="40.60" height="22.60" fill="#6a717d" />
<rect x="2200.00" y="132.00" width="40.60" height="22.60" fill="#68707c" />
<rect x="2240.00" y="132.00" width="40.60" height="22.60" fill="#646c79" />
<rect x="2280.00" y="132.00" width="40.60" height="22.60" fill="#636b78" />
<rect x="2320.00" y="132.00" width="40.60" height="22.60" fill="#686f7b" />
<rect x="2360.00" y="132.00" width="40.60" height="22.60" fill="#707782" />
<rect x="2400.00" y="132.00" width="40.60" height="22.60" fill="#797e88" />
<rect x="2440.00" y="132.00" width="40.60" height="22.60" fill="#7e828b" />
<rect x="2480.00" y="132.00" width="40.60" height="22.60" fill="#7e838c" />
<rect x="2520.00" y="132.00" width="40.60" height="22.60" fill="#7d828b" />
<rect x="2560.00" y="132.00" width="40.60" height="22.60" fill="#7d828b" />
<rect x="2600.00" y="132.00" width="40.60" height="22.60" fill="#7e828b" />
<rect x="2640.00" y="132.00" width="40.60" height="22.60" fill="#7e838c" />
<rect x="2680.00" y="132.00" width="40.60" height="22.60" fill="#7f838c" />
<rect x="2720.00" y="132.00" width="40.60" height="22.60" fill="#7e838c" />
<rect x="2760.00" y="132.00" width="40.60" height="22.60" fill="#7e838b" />
<rect x="2800.00" y="132.00" width="40.60" height="22.60" fill="#7d828b" />
<rect x="2840.00" y="132.00" width="40.60" height="22.60" fill="#7d828b" />
<rect x="2880.00" y="132.00" width="40.60" height="22.60" fill="#7d828b" />
<rect x="2920.00" y="132.00" width="40.60" height="22.60" fill="#7d828b" />
<rect x="2960.00" y="132.00" width="40.60" height="22.60" fill="#7d828b" />
<rect x="3000.00" y="132.00" width="40.60" height="22.60" fill="#7d828b" />
<rect x="-40.00" y="154.00" width="40.60" height="22.60" fill="#6d747f" />
<rect x="0.00" y="154.00" width="40.60" height="22.60" fill="#6d747f" />
<rect x="40.00" y="154.00" width="40.60" height="22.60" fill="#6d747f" />
<rect x="80.00" y="154.00" width="40.60" height="22.60" fill="#6d747f" />
<rect x="120.00" y="154.00" width="40.60" height="22.60" fill="#6c737f" />
<rect x="160.00" y="154.00" width="40.60" height="22.60" fill="#6c727e" />
<rect x="200.00" y="154.00" width="40.60" height="22.60" fill="#6b727d" />
<rect x="240.00" y="154.00" width="40.60" height="22.60" fill="#69707c" />
<rect x="280.00" y="154.00" width="40.60" height="22.60" fill="#686f7b" />
<rect x="320.00" y="154.00" width="40.60" height="22.60" fill="#666e7a" />
<rect x="360.00" y="154.00" width="40.60" height="22.60" fill="#646c79" />
<rect x="400.00" y="154.00" width="40.60" height="22.60" fill="#636b78" />
<rect x="440.00" y="154.00" width="40.60" height="22.60" fill="#626a77" />
<rect x="480.00" y="154.00" width="40.60" height="22.60" fill="#616976" />
<rect x="520.00" y="154.00" width="40.60" height="22.60" fill="#606876" />
<rect x="560.00" y="154.00" width="40.60" height="22.60" fill="#5f6775" />
<rect x="600.00" y="154.00" width="40.60" height="22.60" fill="#5d6573" />
<rect x="640.00" y="154.00" width="40.60" height="22.60" fill="#5b6472" />
<rect x="680.00" y="154.00" width="40.60" height="22.60" fill="#5a6371" />
<rect x="720.00" y="154.00" width="40.60" height="22.60" fill="#596271" />
<rect x="760.00" y="154.00" width="40.60" height="22.60" fill="#5a6271" />
<rect x="800.00" y="154.00" width="40.60" height="22.60" fill="#5a6371" />
<rect x="840.00" y="154.00" width="40.60" height="22.60" fill="#5b6472" />
<rect x="880.00" y="154.00" width="40.60" height="22.60" fill="#5d6573" />
<rect x="920.00" y="154.00" width="40.60" height="22.60" fill="#5d6674" />
<rect x="960.00" y="154.00" width="40.60" height="22.60" fill="#5d6674" />
<rect x="1000.00" y="154.00" width="40.60" height="22.60" fill="#5d6673" />
<rect x="1040.00" y="154.00" width="40.60" height="22.60" fill="#5d6573" />
<rect x="1080.00" y="154.00" width="40.60" height="22.60" fill="#5c6573" />
<rect x="1120.00" y="154.00" width="40.60" height="22.60" fill="#5c6472" />
<rect x="1160.00" y="154.00" width="40.60" height="22.60" fill="#5b6472" />
<rect x="1200.00" y="154.00" width="40.60" height="22.60" fill="#596271" />
<rect x="1240.00" y="154.00" width="40.60" height="22.60" fill="#57606f" />
<rect x="1280.00" y="154.00" width="40.60" height="22.60" fill="#555f6e" />
<rect x="1320.00" y="154.00" width="40.60" height="22.60" fill="#545e6d" />
<rect x="1360.00" y="154.00" width="40.60" height="22.60" fill="#545d6d" />
<rect x="1400.00" y="154.00" width="40.60" height="22.60" fill="#545e6d" />
<rect x="1440.00" y="154.00" width="40.60" height="22.60" fill="#555e6d" />
<rect x="1480.00" y="154.00" width="40.60" height="22.60" fill="#56606f" />
<rect x="1520.00" y="154.00" width="40.60" height="22.60" fill="#586170" />
<rect x="1560.00" y="154.00" width="40.60" height="22.60" fill="#586170" />
<rect x="1600.00" y="154.00" width="40.60" height="22.60" fill="#586170" />
<rect x="1640.00" y="154.00" width="40.60" height="22.60" fill="#57616f" />
<rect x="1680.00" y="154.00" width="40.60" height="22.60" fill="#57606f" />
<rect x="1720.00" y="154.00" width="40.60" height="22.60" fill="#565f6e" />
<rect x="1760.00" y="154.00" width="40.60" height="22.60" fill="#565f6e" />
<rect x="1800.00" y="154.00" width="40.60" height="22.60" fill="#565f6e" />
<rect x="1840.00" y="154.00" width="40.60" height="22.60" fill="#565f6e" />
<rect x="1880.00" y="154.00" width="40.60" height="22.60" fill="#57606f" />
<rect x="1920.00" y="154.00" width="40.60" height="22.60" fill="#57616f" />
<rect x="1960.00" y="154.00" width="40.60" height="22.60" fill="#58616f" />
<rect x="2000.00" y="154.00" width="40.60" height="22.60" fill="#58616f" />
<rect x="2040.00" y="154.00" width="40.60" height="22.60" fill="#586170" />
<rect x="2080.00" y="154.00" width="40.60" height="22.60" fill="#596271" />
<rect x="2120.00" y="154.00" width="40.60" height="22.60" fill="#5c6472" />
<rect x="2160.00" y="154.00" width="40.60" height="22.60" fill="#5d6573" />
<rect x="2200.00" y="154.00" width="40.60" height="22.60" fill="#5d6573" />
<rect x="2240.00" y="154.00" width="40.60" height="22.60" fill="#5c6472" />
<rect x="2280.00" y="154.00" width="40.60" height="22.60" fill="#5e6674" />
<rect x="2320.00" y="154.00" width="40.60" height="22.60" fill="#656c79" />
<rect x="2360.00" y="154.00" width="40.60" height="22.60" fill="#717782" />
<rect x="2400.00" y="154.00" width="40.60" height="22.60" fill="#7c818a" />
<rect x="2440.00" y="154.00" width="40.60" height="22.60" fill="#82878f" />
<rect x="2480.00" y="154.00" width="40.60" height="22.60" fill="#848890" />
<rect x="2520.00" y="154.00" width="40.60" height="22.60" fill="#848890" />
<rect x="2560.00" y="154.00" width="40.60" height="22.60" fill="#83878f" />
<rect x="2600.00" y="154.00" width="40.60" height="22.60" fill="#82878f" />
<rect x="2640.00" y="154.00" width="40.60" height="22.60" fill="#81868e" />
<rect x="2680.00" y="154.00" width="40.60" height="22.60" fill="#80848d" />
<rect x="2720.00" y="154.00" width="40.60" height="22.60" fill="#7e838b" />
<rect x="2760.00" y="154.00" width="40.60" height="22.60" fill="#7c818a" />
<rect x="2800.00" y="154.00" width="40.60" height="22.60" fill="#7a8089" />
<rect x="2840.00" y="154.00" width="40.60" height="22.60" fill="#7a7f89" />
<rect x="2880.00" y="154.00" width="40.60" height="22.60" fill="#7a7f89" />
<rect x="2920.00" y="154.00" width="40.60" height="22.60" fill="#7b8089" />
<rect x="2960.00" y="154.00" width="40.60" height="22.60" fill="#7b8089" />
<rect x="3000.00" y="154.00" width="40.60" height="22.60" fill="#7b8089" />
<rect x="-40.00" y="176.00" width="40.60" height="22.60" fill="#6f7681" />
<rect x="0.00" y="176.00" width="40.60" height="22.60" fill="#6f7681" />
<rect x="40.00" y="176.00" width="40.60" height="22.60" fill="#6f7681" />
<rect x="80.00" y="176.00" width="40.60" height="22.60" fill="#6f7581" />
<rect x="120.00" y="176.00" width="40.60" height="22.60" fill="#6e7580" />
<rect x="160.00" y="176.00" width="40.60" height="22.60" fill="#6e7480" />
<rect x="200.00" y="176.00" width="40.60" height="22.60" fill="#6d737f" />
<rect x="240.00" y="176.00" width="40.60" height="22.60" fill="#6b727e" />
<rect x="280.00" y="176.00" width="40.60" height="22.60" fill="#6a717d" />
<rect x="320.00" y="176.00" width="40.60" height="22.60" fill="#676f7b" />
<rect x="360.00" y="176.00" width="40.60" height="22.60" fill="#656c79" />
<rect x="400.00" y="176.00" width="40.60" height="22.60" fill="#626a77" />
<rect x="440.00" y="176.00" width="40.60" height="22.60" fill="#616976" />
<rect x="480.00" y="176.00" width="40.60" height="22.60" fill="#606976" />
<rect x="520.00" y="176.00" width="40.60" height="22.60" fill="#606876" />
<rect x="560.00" y="176.00" width="40.60" height="22.60" fill="#5f6775" />
<rect x="600.00" y="176.00" width="40.60" height="22.60" fill="#5d6573" />
<rect x="640.00" y="176.00" width="40.60" height="22.60" fill="#5a6371" />
<rect x="680.00" y="176.00" width="40.60" height="22.60" fill="#596270" />
<rect x="720.00" y="176.00" width="40.60" height="22.60" fill="#586170" />
<rect x="760.00" y="176.00" width="40.60" height="22.60" fill="#586170" />
<rect x="800.00" y="176.00" width="40.60" height="22.60" fill="#57606f" />
<rect x="840.00" y="176.00" width="40.60" height="22.60" fill="#565f6e" />
<rect x="880.00" y="176.00" width="40.60" height="22.60" fill="#545d6d" />
<rect x="920.00" y="176.00" width="40.60" height="22.60" fill="#525c6c" />
<rect x="960.00" y="176.00" width="40.60" height="22.60" fill="#525b6b" />
<rect x="1000.00" y="176.00" width="40.60" height="22.60" fill="#515b6b" />
<rect x="1040.00" y="176.00" width="40.60" height="22.60" fill="#515b6b" />
<rect x="1080.00" y="176.00" width="40.60" height="22.60" fill="#515b6b" />
<rect x="1120.00" y="176.00" width="40.60" height="22.60" fill="#515b6a" />
<rect x="1160.00" y="176.00" width="40.60" height="22.60" fill="#515b6a" />
<rect x="1200.00" y="176.00" width="40.60" height="22.60" fill="#515b6b" />
<rect x="1240.00" y="176.00" width="40.60" height="22.60" fill="#525c6b" />
<rect x="1280.00" y="176.00" width="40.60" height="22.60" fill="#535c6c" />
<rect x="1320.00" y="176.00" width="40.60" height="22.60" fill="#535c6c" />
<rect x="1360.00" y="176.00" width="40.60" height="22.60" fill="#535c6c" />
<rect x="1400.00" y="176.00" width="40.60" height="22.60" fill="#535c6c" />
<rect x="1440.00" y="176.00" width="40.60" height="22.60" fill="#525c6b" />
<rect x="1480.00" y="176.00" width="40.60" height="22.60" fill="#525b6b" />
<rect x="1520.00" y="176.00" width="40.60" height="22.60" fill="#515b6b" />
<rect x="1560.00" y="176.00" width="40.60" height="22.60" fill="#515b6b" />
<rect x="1600.00" y="176.00" width="40.60" height="22.60" fill="#515b6b" />
<rect x="1640.00" y="176.00" width="40.60" height="22.60" fill="#515b6b" />
<rect x="1680.00" y="176.00" width="40.60" height="22.60" fill="#515b6b" />
<rect x="1720.00" y="176.00" width="40.60" height="22.60" fill="#525b6b" />
<rect x="1760.00" y="176.00" width="40.60" height="22.60" fill="#525c6b" />
<rect x="1800.00" y="176.00" width="40.60" height="22.60" fill="#525c6b" />
<rect x="1840.00" y="176.00" width="40.60" height="22.60" fill="#525b6b" />
<rect x="1880.00" y="176.00" width="40.60" height="22.60" fill="#515b6b" />
<rect x="1920.00" y="176.00" width="40.60" height="22.60" fill="#515b6b" />
<rect x="1960.00" y="176.00" width="40.60" height="22.60" fill="#515b6b" />
<rect x="2000.00" y="176.00" width="40.60" height="22.60" fill="#515b6a" />
<rect x="2040.00" y="176.00" width="40.60" height="22.60" fill="#515b6b" />
<rect x="2080.00" y="176.00" width="40.60" height="22.60" fill="#525b6b" />
<rect x="2120.00" y="176.00" width="40.60" height="22.60" fill="#535c6c" />
<rect x="2160.00" y="176.00" width="40.60" height="22.60" fill="#545d6d" />
<rect x="2200.00" y="176.00" width="40.60" height="22.60" fill="#555e6d" />
<rect x="2240.00" y="176.00" width="40.60" height="22.60" fill="#555f6e" />
<rect x="2280.00" y="176.00" width="40.60" height="22.60" fill="#5a6371" />
<rect x="2320.00" y="176.00" width="40.60" height="22.60" fill="#636b78" />
<rect x="2360.00" y="176.00" width="40.60" height="22.60" fill="#727883" />
<rect x="2400.00" y="176.00" width="40.60" height="22.60" fill="#7f848d" />
<rect x="2440.00" y="176.00" width="40.60" height="22.60" fill="#888b93" />
<rect x="2480.00" y="176.00" width="40.60" height="22.60" fill="#8a8e95" />
<rect x="2520.00" y="176.00" width="40.60" height="22.60" fill="#8a8e95" />
<rect x="2560.00" y="176.00" width="40.60" height="22.60" fill="#898d94" />
<rect x="2600.00" y="176.00" width="40.60" height="22.60" fill="#878b92" />
<rect x="2640.00" y="176.00" width="40.60" height="22.60" fill="#858991" />
<rect x="2680.00" y="176.00" width="40.60" height="22.60" fill="#82878f" />
<rect x="2720.00" y="176.00" width="40.60" height="22.60" fill="#7f848d" />
<rect x="2760.00" y="176.00" width="40.60" height="22.60" fill="#7c818a" />
<rect x="2800.00" y="176.00" width="40.60" height="22.60" fill="#7a8089" />
<rect x="2840.00" y="176.00" width="40.60" height="22.60" fill="#797f88" />
<rect x="2880.00" y="176.00" width="40.60" height="22.60" fill="#797f88" />
<rect x="2920.00" y="176.00" width="40.60" height="22.60" fill="#7a7f89" />
<rect x="2960.00" y="176.00" width="40.60" height="22.60" fill="#7a7f89" />
<rect x="3000.00" y="176.00" width="40.60" height="22.60" fill="#7a7f89" />
<rect x="-40.00" y="198.00" width="40.60" height="22.60" fill="#6f7580" />
<rect x="0.00" y="198.00" width="40.60" height="22.60" fill="#6f7580" />
<rect x="40.00" y="198.00" width="40.60" height="22.60" fill="#6f7580" />
<rect x="80.00" y="198.00" width="40.60" height="22.60" fill="#6f7681" />
<rect x="120.00" y="198.00" width="40.60" height="22.60" fill="#707681" />
<rect x="160.00" y="198.00" width="40.60" height="22.60" fill="#707681" />
<rect x="200.00" y="198.00" width="40.60" height="22.60" fill="#6f7681" />
<rect x="240.00" y="198.00" width="40.60" height="22.60" fill="#6f7581" />
<rect x="280.00" y="198.00" width="40.60" height="22.60" fill="#6d747f" />
<rect x="320.00" y="198.00" width="40.60" height="22.60" fill="#6b727d" />
<rect x="360.00" y="198.00" width="40.60" height="22.60" fill="#676e7a" />
<rect x="400.00" y="198.00" width="40.60" height="22.60" fill="#636b78" />
<rect x="440.00" y="198.00" width="40.60" height="22.60" fill="#616977" />
<rect x="480.00" y="198.00" width="40.60" height="22.60" fill="#616976" />
<rect x="520.00" y="198.00" width="40.60" height="22.60" fill="#616977" />
<rect x="560.00" y="198.00" width="40.60" height="22.60" fill="#616977" />
<rect x="600.00" y="198.00" width="40.60" height="22.60" fill="#616976" />
<rect x="640.00" y="198.00" width="40.60" height="22.60" fill="#606876" />
<rect x="680.00" y="198.00" width="40.60" height="22.60" fill="#5f6775" />
<rect x="720.00" y="198.00" width="40.60" height="22.60" fill="#5f6775" />
<rect x="760.00" y="198.00" width="40.60" height="22.60" fill="#5e6674" />
<rect x="800.00" y="198.00" width="40.60" height="22.60" fill="#5b6472" />
<rect x="840.00" y="198.00" width="40.60" height="22.60" fill="#57606f" />
<rect x="880.00" y="198.00" width="40.60" height="22.60" fill="#525c6b" />
<rect x="920.00" y="198.00" width="40.60" height="22.60" fill="#4f5969" />
<rect x="960.00" y="198.00" width="40.60" height="22.60" fill="#4d5767" />
<rect x="1000.00" y="198.00" width="40.60" height="22.60" fill="#4d5767" />
<rect x="1040.00" y="198.00" width="40.60" height="22.60" fill="#4e5868" />
<rect x="1080.00" y="198.00" width="40.60" height="22.60" fill="#4f5969" />
<rect x="1120.00" y="198.00" width="40.60" height="22.60" fill="#505a6a" />
<rect x="1160.00" y="198.00" width="40.60" height="22.60" fill="#515b6b" />
<rect x="1200.00" y="198.00" width="40.60" height="22.60" fill="#535c6c" />
<rect x="1240.00" y="198.00" width="40.60" height="22.60" fill="#545e6d" />
<rect x="1280.00" y="198.00" width="40.60" height="22.60" fill="#555f6e" />
<rect x="1320.00" y="198.00" width="40.60" height="22.60" fill="#555f6e" />
<rect x="1360.00" y="198.00" width="40.60" height="22.60" fill="#545e6d" />
<rect x="1400.00" y="198.00" width="40.60" height="22.60" fill="#535d6c" />
<rect x="1440.00" y="198.00" width="40.60" height="22.60" fill="#515b6b" />
<rect x="1480.00" y="198.00" width="40.60" height="22.60" fill="#4f5969" />
<rect x="1520.00" y="198.00" width="40.60" height="22.60" fill="#4e5868" />
<rect x="1560.00" y="198.00" width="40.60" height="22.60" fill="#4d5767" />
<rect x="1600.00" y="198.00" width="40.60" height="22.60" fill="#4e5868" />
<rect x="1640.00" y="198.00" width="40.60" height="22.60" fill="#4e5868" />
<rect x="1680.00" y="198.00" width="40.60" height="22.60" fill="#4f5969" />
<rect x="1720.00" y="198.00" width="40.60" height="22.60" fill="#4f5969" />
<rect x="1760.00" y="198.00" width="40.60" height="22.60" fill="#505a6a" />
<rect x="1800.00" y="198.00" width="40.60" height="22.60" fill="#505a6a" />
<rect x="1840.00" y="198.00" width="40.60" height="22.60" fill="#4f5969" />
<rect x="1880.00" y="198.00" width="40.60" height="22.60" fill="#4f5969" />
<rect x="1920.00" y="198.00" width="40.60" height="22.60" fill="#4e5868" />
<rect x="1960.00" y="198.00" width="40.60" height="22.60" fill="#4e5868" />
<rect x="2000.00" y="198.00" width="40.60" height="22.60" fill="#4e5868" />
<rect x="2040.00" y="198.00" width="40.60" height="22.60" fill="#4e5868" />
<rect x="2080.00" y="198.00" width="40.60" height="22.60" fill="#4e5868" />
<rect x="2120.00" y="198.00" width="40.60" height="22.60" fill="#4f5969" />
<rect x="2160.00" y="198.00" width="40.60" height="22.60" fill="#4f5969" />
<rect x="2200.00" y="198.00" width="40.60" height="22.60" fill="#505a6a" />
<rect x="2240.00" y="198.00" width="40.60" height="22.60" fill="#525c6b" />
<rect x="2280.00" y="198.00" width="40.60" height="22.60" fill="#58616f" />
<rect x="2320.00" y="198.00" width="40.60" height="22.60" fill="#636b78" />
<rect x="2360.00" y="198.00" width="40.60" height="22.60" fill="#747a85" />
<rect x="2400.00" y="198.00" width="40.60" height="22.60" fill="#848890" />
<rect x="2440.00" y="198.00" width="40.60" height="22.60" fill="#8e9197" />
<rect x="2480.00" y="198.00" width="40.60" height="22.60" fill="#919499" />
<rect x="2520.00" y="198.00" width="40.60" height="22.60" fill="#909399" />
<rect x="2560.00" y="198.00" width="40.60" height="22.60" fill="#8f9298" />
<rect x="2600.00" y="198.00" width="40.60" height="22.60" fill="#8d9096" />
<rect x="2640.00" y="198.00" width="40.60" height="22.60" fill="#8a8d94" />
<rect x="2680.00" y="198.00" width="40.60" height="22.60" fill="#868a92" />
<rect x="2720.00" y="198.00" width="40.60" height="22.60" fill="#83878f" />
<rect x="2760.00" y="198.00" width="40.60" height="22.60" fill="#80858d" />
<rect x="2800.00" y="198.00" width="40.60" height="22.60" fill="#7e838b" />
<rect x="2840.00" y="198.00" width="40.60" height="22.60" fill="#7c818a" />
<rect x="2880.00" y="198.00" width="40.60" height="22.60" fill="#7b808a" />
<rect x="2920.00" y="198.00" width="40.60" height="22.60" fill="#7b808a" />
<rect x="2960.00" y="198.00" width="40.60" height="22.60" fill="#7b808a" />
<rect x="3000.00" y="198.00" width="40.60" height="22.60" fill="#7b808a" />
<rect x="-40.00" y="220.00" width="40.60" height="22.60" fill="#6b727e" />
<rect x="0.00" y="220.00" width="40.60" height="22.60" fill="#6b727e" />
<rect x="40.00" y="220.00" width="40.60" height="22.60" fill="#6b727e" />
<rect x="80.00" y="220.00" width="40.60" height="22.60" fill="#6e7480" />
<rect x="120.00" y="220.00" width="40.60" height="22.60" fill="#707681" />
<rect x="160.00" y="220.00" width="40.60" height="22.60" fill="#727883" />
<rect x="200.00" y="220.00" width="40.60" height="22.60" fill="#737984" />
<rect x="240.00" y="220.00" width="40.60" height="22.60" fill="#747a84" />
<rect x="280.00" y="220.00" width="40.60" height="22.60" fill="#737983" />
<rect x="320.00" y="220.00" width="40.60" height="22.60" fill="#707681" />
<rect x="360.00" y="220.00" width="40.60" height="22.60" fill="#6a717d" />
<rect x="400.00" y="220.00" width="40.60" height="22.60" fill="#666d7a" />
<rect x="440.00" y="220.00" width="40.60" height="22.60" fill="#636b78" />
<rect x="480.00" y="220.00" width="40.60" height="22.60" fill="#636b78" />
<rect x="520.00" y="220.00" width="40.60" height="22.60" fill="#646c79" />
<rect x="560.00" y="220.00" width="40.60" height="22.60" fill="#666e7a" />
<rect x="600.00" y="220.00" width="40.60" height="22.60" fill="#69707c" />
<rect x="640.00" y="220.00" width="40.60" height="22.60" fill="#6c737f" />
<rect x="680.00" y="220.00" width="40.60" height="22.60" fill="#6e7480" />
<rect x="720.00" y="220.00" width="40.60" height="22.60" fill="#6d747f" />
<rect x="760.00" y="220.00" width="40.60" height="22.60" fill="#6b727e" />
<rect x="800.00" y="220.00" width="40.60" height="22.60" fill="#676e7a" />
<rect x="840.00" y="220.00" width="40.60" height="22.60" fill="#606875" />
<rect x="880.00" y="220.00" width="40.60" height="22.60" fill="#58616f" />
<rect x="920.00" y="220.00" width="40.60" height="22.60" fill="#525c6b" />
<rect x="960.00" y="220.00" width="40.60" height="22.60" fill="#505a6a" />
<rect x="1000.00" y="220.00" width="40.60" height="22.60" fill="#505a6a" />
<rect x="1040.00" y="220.00" width="40.60" height="22.60" fill="#525b6b" />
<rect x="1080.00" y="220.00" width="40.60" height="22.60" fill="#555e6d" />
<rect x="1120.00" y="220.00" width="40.60" height="22.60" fill="#586170" />
<rect x="1160.00" y="220.00" width="40.60" height="22.60" fill="#5c6472" />
<rect x="1200.00" y="220.00" width="40.60" height="22.60" fill="#5d6674" />
<rect x="1240.00" y="220.00" width="40.60" height="22.60" fill="#5e6774" />
<rect x="1280.00" y="220.00" width="40.60" height="22.60" fill="#5e6674" />
<rect x="1320.00" y="220.00" width="40.60" height="22.60" fill="#5c6473" />
<rect x="1360.00" y="220.00" width="40.60" height="22.60" fill="#596270" />
<rect x="1400.00" y="220.00" width="40.60" height="22.60" fill="#555e6e" />
<rect x="1440.00" y="220.00" width="40.60" height="22.60" fill="#525c6b" />
<rect x="1480.00" y="220.00" width="40.60" height="22.60" fill="#505a6a" />
<rect x="1520.00" y="220.00" width="40.60" height="22.60" fill="#4e5868" />
<rect x="1560.00" y="220.00" width="40.60" height="22.60" fill="#4e5868" />
<rect x="1600.00" y="220.00" width="40.60" height="22.60" fill="#4e5868" />
<rect x="1640.00" y="220.00" width="40.60" height="22.60" fill="#4e5868" />
<rect x="1680.00" y="220.00" width="40.60" height="22.60" fill="#4f5969" />
<rect x="1720.00" y="220.00" width="40.60" height="22.60" fill="#4f5969" />
<rect x="1760.00" y="220.00" width="40.60" height="22.60" fill="#4f5969" />
<rect x="1800.00" y="220.00" width="40.60" height="22.60" fill="#4f5969" />
<rect x="1840.00" y="220.00" width="40.60" height="22.60" fill="#4f5969" />
<rect x="1880.00" y="220.00" width="40.60" height="22.60" fill="#4f5969" />
<rect x="1920.00" y="220.00" width="40.60" height="22.60" fill="#4e5868" />
<rect x="1960.00" y="220.00" width="40.60" height="22.60" fill="#4e5868" />
<rect x="2000.00" y="220.00" width="40.60" height="22.60" fill="#4e5868" />
<rect x="2040.00" y="220.00" width="40.60" height="22.60" fill="#4e5868" />
<rect x="2080.00" y="220.00" width="40.60" height="22.60" fill="#4e5868" />
<rect x="2120.00" y="220.00" width="40.60" height="22.60" fill="#4f5969" />
<rect x="2160.00" y="220.00" width="40.60" height="22.60" fill="#505a6a" />
<rect x="2200.00" y="220.00" width="40.60" height="22.60" fill="#505a6a" />
<rect x="2240.00" y="220.00" width="40.60" height="22.60" fill="#515b6b" />
<rect x="2280.00" y="220.00" width="40.60" height="22.60" fill="#57606f" />
<rect x="2320.00" y="220.00" width="40.60" height="22.60" fill="#646c78" />
<rect x="2360.00" y="220.00" width="40.60" height="22.60" fill="#787d87" />
<rect x="2400.00" y="220.00" width="40.60" height="22.60" fill="#8a8d94" />
<rect x="2440.00" y="220.00" width="40.60" height="22.60" fill="#94979c" />
<rect x="2480.00" y="220.00" width="40.60" height="22.60" fill="#97999e" />
<rect x="2520.00" y="220.00" width="40.60" height="22.60" fill="#96999e" />
<rect x="2560.00" y="220.00" width="40.60" height="22.60" fill="#95979c" />
<rect x="2600.00" y="220.00" width="40.60" height="22.60" fill="#92959a" />
<rect x="2640.00" y="220.00" width="40.60" height="22.60" fill="#8f9298" />
<rect x="2680.00" y="220.00" width="40.60" height="22.60" fill="#8c8f96" />
<rect x="2720.00" y="220.00" width="40.60" height="22.60" fill="#898d94" />
<rect x="2760.00" y="220.00" width="40.60" height="22.60" fill="#878b92" />
<rect x="2800.00" y="220.00" width="40.60" height="22.60" fill="#848990" />
<rect x="2840.00" y="220.00" width="40.60" height="22.60" fill="#82868f" />
<rect x="2880.00" y="220.00" width="40.60" height="22.60" fill="#80848d" />
<rect x="2920.00" y="220.00" width="40.60" height="22.60" fill="#7e838b" />
<rect x="2960.00" y="220.00" width="40.60" height="22.60" fill="#7e838b" />
<rect x="3000.00" y="220.00" width="40.60" height="22.60" fill="#7e838b" />
<rect x="-40.00" y="242.00" width="40.60" height="22.60" fill="#68707c" />
<rect x="0.00" y="242.00" width="40.60" height="22.60" fill="#68707c" />
<rect x="40.00" y="242.00" width="40.60" height="22.60" fill="#68707c" />
<rect x="80.00" y="242.00" width="40.60" height="22.60" fill="#6c737f" />
<rect x="120.00" y="242.00" width="40.60" height="22.60" fill="#707681" />
<rect x="160.00" y="242.00" width="40.60" height="22.60" fill="#737984" />
<rect x="200.00" y="242.00" width="40.60" height="22.60" fill="#757b85" />
<rect x="240.00" y="242.00" width="40.60" height="22.60" fill="#777d86" />
<rect x="280.00" y="242.00" width="40.60" height="22.60" fill="#767c86" />
<rect x="320.00" y="242.00" width="40.60" height="22.60" fill="#737984" />
<rect x="360.00" y="242.00" width="40.60" height="22.60" fill="#6d747f" />
<rect x="400.00" y="242.00" width="40.60" height="22.60" fill="#686f7b" />
<rect x="440.00" y="242.00" width="40.60" height="22.60" fill="#656c79" />
<rect x="480.00" y="242.00" width="40.60" height="22.60" fill="#646c79" />
<rect x="520.00" y="242.00" width="40.60" height="22.60" fill="#666e7a" />
<rect x="560.00" y="242.00" width="40.60" height="22.60" fill="#6a717d" />
<rect x="600.00" y="242.00" width="40.60" height="22.60" fill="#707681" />
<rect x="640.00" y="242.00" width="40.60" height="22.60" fill="#767b86" />
<rect x="680.00" y="242.00" width="40.60" height="22.60" fill="#797e88" />
<rect x="720.00" y="242.00" width="40.60" height="22.60" fill="#797e88" />
<rect x="760.00" y="242.00" width="40.60" height="22.60" fill="#767b85" />
<rect x="800.00" y="242.00" width="40.60" height="22.60" fill="#707681" />
<rect x="840.00" y="242.00" width="40.60" height="22.60" fill="#686f7b" />
<rect x="880.00" y="242.00" width="40.60" height="22.60" fill="#5e6674" />
<rect x="920.00" y="242.00" width="40.60" height="22.60" fill="#57606f" />
<rect x="960.00" y="242.00" width="40.60" height="22.60" fill="#545e6d" />
<rect x="1000.00" y="242.00" width="40.60" height="22.60" fill="#555e6d" />
<rect x="1040.00" y="242.00" width="40.60" height="22.60" fill="#57606f" />
<rect x="1080.00" y="242.00" width="40.60" height="22.60" fill="#5b6472" />
<rect x="1120.00" y="242.00" width="40.60" height="22.60" fill="#616977" />
<rect x="1160.00" y="242.00" width="40.60" height="22.60" fill="#656d7a" />
<rect x="1200.00" y="242.00" width="40.60" height="22.60" fill="#676f7b" />
<rect x="1240.00" y="242.00" width="40.60" height="22.60" fill="#676e7b" />
<rect x="1280.00" y="242.00" width="40.60" height="22.60" fill="#656c79" />
<rect x="1320.00" y="242.00" width="40.60" height="22.60" fill="#616976" />
<rect x="1360.00" y="242.00" width="40.60" height="22.60" fill="#5c6473" />
<rect x="1400.00" y="242.00" width="40.60" height="22.60" fill="#57606f" />
<rect x="1440.00" y="242.00" width="40.60" height="22.60" fill="#535d6c" />
<rect x="1480.00" y="242.00" width="40.60" height="22.60" fill="#515b6b" />
<rect x="1520.00" y="242.00" width="40.60" height="22.60" fill="#505a6a" />
<rect x="1560.00" y="242.00" width="40.60" height="22.60" fill="#4f5969" />
<rect x="1600.00" y="242.00" width="40.60" height="22.60" fill="#4f5969" />
<rect x="1640.00" y="242.00" width="40.60" height="22.60" fill="#4f5969" />
<rect x="1680.00" y="242.00" width="40.60" height="22.60" fill="#505a6a" />
<rect x="1720.00" y="242.00" width="40.60" height="22.60" fill="#505a6a" />
<rect x="1760.00" y="242.00" width="40.60" height="22.60" fill="#505a6a" />
<rect x="1800.00" y="242.00" width="40.60" height="22.60" fill="#4f5969" />
<rect x="1840.00" y="242.00" width="40.60" height="22.60" fill="#505a6a" />
<rect x="1880.00" y="242.00" width="40.60" height="22.60" fill="#505a6a" />
<rect x="1920.00" y="242.00" width="40.60" height="22.60" fill="#4f5969" />
<rect x="1960.00" y="242.00" width="40.60" height="22.60" fill="#4f5969" />
<rect x="2000.00" y="242.00" width="40.60" height="22.60" fill="#4f5969" />
<rect x="2040.00" y="242.00" width="40.60" height="22.60" fill="#4f5969" />
<rect x="2080.00" y="242.00" width="40.60" height="22.60" fill="#505a6a" />
<rect x="2120.00" y="242.00" width="40.60" height="22.60" fill="#515b6b" />
<rect x="2160.00" y="242.00" width="40.60" height="22.60" fill="#525b6b" />
<rect x="2200.00" y="242.00" width="40.60" height="22.60" fill="#525c6b" />
<rect x="2240.00" y="242.00" width="40.60" height="22.60" fill="#525c6b" />
<rect x="2280.00" y="242.00" width="40.60" height="22.60" fill="#57616f" />
<rect x="2320.00" y="242.00" width="40.60" height="22.60" fill="#656c79" />
<rect x="2360.00" y="242.00" width="40.60" height="22.60" fill="#7a7f89" />
<rect x="2400.00" y="242.00" width="40.60" height="22.60" fill="#8d9097" />
<rect x="2440.00" y="242.00" width="40.60" height="22.60" fill="#989a9f" />
<rect x="2480.00" y="242.00" width="40.60" height="22.60" fill="#9b9da1" />
<rect x="2520.00" y="242.00" width="40.60" height="22.60" fill="#9a9ba0" />
<rect x="2560.00" y="242.00" width="40.60" height="22.60" fill="#989a9e" />
<rect x="2600.00" y="242.00" width="40.60" height="22.60" fill="#95979d" />
<rect x="2640.00" y="242.00" width="40.60" height="22.60" fill="#92959b" />
<rect x="2680.00" y="242.00" width="40.60" height="22.60" fill="#909399" />
<rect x="2720.00" y="242.00" width="40.60" height="22.60" fill="#8e9197" />
<rect x="2760.00" y="242.00" width="40.60" height="22.60" fill="#8c8f96" />
<rect x="2800.00" y="242.00" width="40.60" height="22.60" fill="#8a8d94" />
<rect x="2840.00" y="242.00" width="40.60" height="22.60" fill="#878b92" />
<rect x="2880.00" y="242.00" width="40.60" height="22.60" fill="#838890" />
<rect x="2920.00" y="242.00" width="40.60" height="22.60" fill="#80858d" />
<rect x="2960.00" y="242.00" width="40.60" height="22.60" fill="#80858d" />
<rect x="3000.00" y="242.00" width="40.60" height="22.60" fill="#80858d" />
<rect x="-40.00" y="264.00" width="40.60" height="22.60" fill="#68707c" />
<rect x="0.00" y="264.00" width="40.60" height="22.60" fill="#68707c" />
<rect x="40.00" y="264.00" width="40.60" height="22.60" fill="#68707c" />
<rect x="80.00" y="264.00" width="40.60" height="22.60" fill="#6c737f" />
<rect x="120.00" y="264.00" width="40.60" height="22.60" fill="#707681" />
<rect x="160.00" y="264.00" width="40.60" height="22.60" fill="#737984" />
<rect x="200.00" y="264.00" width="40.60" height="22.60" fill="#757b85" />
<rect x="240.00" y="264.00" width="40.60" height="22.60" fill="#777d86" />
<rect x="280.00" y="264.00" width="40.60" height="22.60" fill="#767c86" />
<rect x="320.00" y="264.00" width="40.60" height="22.60" fill="#737984" />
<rect x="360.00" y="264.00" width="40.60" height="22.60" fill="#6d747f" />
<rect x="400.00" y="264.00" width="40.60" height="22.60" fill="#686f7b" />
<rect x="440.00" y="264.00" width="40.60" height="22.60" fill="#656c79" />
<rect x="480.00" y="264.00" width="40.60" height="22.60" fill="#646c79" />
<rect x="520.00" y="264.00" width="40.60" height="22.60" fill="#666e7a" />
<rect x="560.00" y="264.00" width="40.60" height="22.60" fill="#6a717d" />
<rect x="600.00" y="264.00" width="40.60" height="22.60" fill="#707681" />
<rect x="640.00" y="264.00" width="40.60" height="22.60" fill="#767b86" />
<rect x="680.00" y="264.00" width="40.60" height="22.60" fill="#797e88" />
<rect x="720.00" y="264.00" width="40.60" height="22.60" fill="#797e88" />
<rect x="760.00" y="264.00" width="40.60" height="22.60" fill="#767b85" />
<rect x="800.00" y="264.00" width="40.60" height="22.60" fill="#707681" />
<rect x="840.00" y="264.00" width="40.60" height="22.60" fill="#686f7b" />
<rect x="880.00" y="264.00" width="40.60" height="22.60" fill="#5e6674" />
<rect x="920.00" y="264.00" width="40.60" height="22.60" fill="#57606f" />
<rect x="960.00" y="264.00" width="40.60" height="22.60" fill="#545e6d" />
<rect x="1000.00" y="264.00" width="40.60" height="22.60" fill="#555e6d" />
<rect x="1040.00" y="264.00" width="40.60" height="22.60" fill="#57606f" />
<rect x="1080.00" y="264.00" width="40.60" height="22.60" fill="#5b6472" />
<rect x="1120.00" y="264.00" width="40.60" height="22.60" fill="#616977" />
<rect x="1160.00" y="264.00" width="40.60" height="22.60" fill="#656d7a" />
<rect x="1200.00" y="264.00" width="40.60" height="22.60" fill="#676f7b" />
<rect x="1240.00" y="264.00" width="40.60" height="22.60" fill="#676e7b" />
<rect x="1280.00" y="264.00" width="40.60" height="22.60" fill="#656c79" />
<rect x="1320.00" y="264.00" width="40.60" height="22.60" fill="#616976" />
<rect x="1360.00" y="264.00" width="40.60" height="22.60" fill="#5c6473" />
<rect x="1400.00" y="264.00" width="40.60" height="22.60" fill="#57606f" />
<rect x="1440.00" y="264.00" width="40.60" height="22.60" fill="#535d6c" />
<rect x="1480.00" y="264.00" width="40.60" height="22.60" fill="#515b6b" />
<rect x="1520.00" y="264.00" width="40.60" height="22.60" fill="#505a6a" />
<rect x="1560.00" y="264.00" width="40.60" height="22.60" fill="#4f5969" />
<rect x="1600.00" y="264.00" width="40.60" height="22.60" fill="#4f5969" />
<rect x="1640.00" y="264.00" width="40.60" height="22.60" fill="#4f5969" />
<rect x="1680.00" y="264.00" width="40.60" height="22.60" fill="#505a6a" />
<rect x="1720.00" y="264.00" width="40.60" height="22.60" fill="#505a6a" />
<rect x="1760.00" y="264.00" width="40.60" height="22.60" fill="#505a6a" />
<rect x="1800.00" y="264.00" width="40.60" height="22.60" fill="#4f5969" />
<rect x="1840.00" y="264.00" width="40.60" height="22.60" fill="#505a6a" />
<rect x="1880.00" y="264.00" width="40.60" height="22.60" fill="#505a6a" />
<rect x="1920.00" y="264.00" width="40.60" height="22.60" fill="#4f5969" />
<rect x="1960.00" y="264.00" width="40.60" height="22.60" fill="#4f5969" />
<rect x="2000.00" y="264.00" width="40.60" height="22.60" fill="#4f5969" />
<rect x="2040.00" y="264.00" width="40.60" height="22.60" fill="#4f5969" />
<rect x="2080.00" y="264.00" width="40.60" height="22.60" fill="#505a6a" />
<rect x="2120.00" y="264.00" width="40.60" height="22.60" fill="#515b6b" />
<rect x="2160.00" y="264.00" width="40.60" height="22.60" fill="#525b6b" />
<rect x="2200.00" y="264.00" width="40.60" height="22.60" fill="#525c6b" />
<rect x="2240.00" y="264.00" width="40.60" height="22.60" fill="#525c6b" />
<rect x="2280.00" y="264.00" width="40.60" height="22.60" fill="#57616f" />
<rect x="2320.00" y="264.00" width="40.60" height="22.60" fill="#656c79" />
<rect x="2360.00" y="264.00" width="40.60" height="22.60" fill="#7a7f89" />
<rect x="2400.00" y="264.00" width="40.60" height="22.60" fill="#8d9097" />
<rect x="2440.00" y="264.00" width="40.60" height="22.60" fill="#989a9f" />
<rect x="2480.00" y="264.00" width="40.60" height="22.60" fill="#9b9da1" />
<rect x="2520.00" y="264.00" width="40.60" height="22.60" fill="#9a9ba0" />
<rect x="2560.00" y="264.00" width="40.60" height="22.60" fill="#989a9e" />
<rect x="2600.00" y="264.00" width="40.60" height="22.60" fill="#95979d" />
<rect x="2640.00" y="264.00" width="40.60" height="22.60" fill="#92959b" />
<rect x="2680.00" y="264.00" width="40.60" height="22.60" fill="#909399" />
<rect x="2720.00" y="264.00" width="40.60" height="22.60" fill="#8e9197" />
<rect x="2760.00" y="264.00" width="40.60" height="22.60" fill="#8c8f96" />
<rect x="2800.00" y="264.00" width="40.60" height="22.60" fill="#8a8d94" />
<rect x="2840.00" y="264.00" width="40.60" height="22.60" fill="#878b92" />
<rect x="2880.00" y="264.00" width="40.60" height="22.60" fill="#838890" />
<rect x="2920.00" y="264.00" width="40.60" height="22.60" fill="#80858d" />
<rect x="2960.00" y="264.00" width="40.60" height="22.60" fill="#80858d" />
<rect x="3000.00" y="264.00" width="40.60" height="22.60" fill="#80858d" />
<rect x="-40.00" y="286.00" width="40.60" height="22.60" fill="#68707c" />
<rect x="0.00" y="286.00" width="40.60" height="22.60" fill="#68707c" />
<rect x="40.00" y="286.00" width="40.60" height="22.60" fill="#68707c" />
<rect x="80.00" y="286.00" width="40.60" height="22.60" fill="#6c737f" />
<rect x="120.00" y="286.00" width="40.60" height="22.60" fill="#707681" />
<rect x="160.00" y="286.00" width="40.60" height="22.60" fill="#737984" />
<rect x="200.00" y="286.00" width="40.60" height="22.60" fill="#757b85" />
<rect x="240.00" y="286.00" width="40.60" height="22.60" fill="#777d86" />
<rect x="280.00" y="286.00" width="40.60" height="22.60" fill="#767c86" />
<rect x="320.00" y="286.00" width="40.60" height="22.60" fill="#737984" />
<rect x="360.00" y="286.00" width="40.60" height="22.60" fill="#6d747f" />
<rect x="400.00" y="286.00" width="40.60" height="22.60" fill="#686f7b" />
<rect x="440.00" y="286.00" width="40.60" height="22.60" fill="#656c79" />
<rect x="480.00" y="286.00" width="40.60" height="22.60" fill="#646c79" />
<rect x="520.00" y="286.00" width="40.60" height="22.60" fill="#666e7a" />
<rect x="560.00" y="286.00" width="40.60" height="22.60" fill="#6a717d" />
<rect x="600.00" y="286.00" width="40.60" height="22.60" fill="#707681" />
<rect x="640.00" y="286.00" width="40.60" height="22.60" fill="#767b86" />
<rect x="680.00" y="286.00" width="40.60" height="22.60" fill="#797e88" />
<rect x="720.00" y="286.00" width="40.60" height="22.60" fill="#797e88" />
<rect x="760.00" y="286.00" width="40.60" height="22.60" fill="#767b85" />
<rect x="800.00" y="286.00" width="40.60" height="22.60" fill="#707681" />
<rect x="840.00" y="286.00" width="40.60" height="22.60" fill="#686f7b" />
<rect x="880.00" y="286.00" width="40.60" height="22.60" fill="#5e6674" />
<rect x="920.00" y="286.00" width="40.60" height="22.60" fill="#57606f" />
<rect x="960.00" y="286.00" width="40.60" height="22.60" fill="#545e6d" />
<rect x="1000.00" y="286.00" width="40.60" height="22.60" fill="#555e6d" />
<rect x="1040.00" y="286.00" width="40.60" height="22.60" fill="#57606f" />
<rect x="1080.00" y="286.00" width="40.60" height="22.60" fill="#5b6472" />
<rect x="1120.00" y="286.00" width="40.60" height="22.60" fill="#616977" />
<rect x="1160.00" y="286.00" width="40.60" height="22.60" fill="#656d7a" />
<rect x="1200.00" y="286.00" width="40.60" height="22.60" fill="#676f7b" />
<rect x="1240.00" y="286.00" width="40.60" height="22.60" fill="#676e7b" />
<rect x="1280.00" y="286.00" width="40.60" height="22.60" fill="#656c79" />
<rect x="1320.00" y="286.00" width="40.60" height="22.60" fill="#616976" />
<rect x="1360.00" y="286.00" width="40.60" height="22.60" fill="#5c6473" />
<rect x="1400.00" y="286.00" width="40.60" height="22.60" fill="#57606f" />
<rect x="1440.00" y="286.00" width="40.60" height="22.60" fill="#535d6c" />
<rect x="1480.00" y="286.00" width="40.60" height="22.60" fill="#515b6b" />
<rect x="1520.00" y="286.00" width="40.60" height="22.60" fill="#505a6a" />
<rect x="1560.00" y="286.00" width="40.60" height="22.60" fill="#4f5969" />
<rect x="1600.00" y="286.00" width="40.60" height="22.60" fill="#4f5969" />
<rect x="1640.00" y="286.00" width="40.60" height="22.60" fill="#4f5969" />
<rect x="1680.00" y="286.00" width="40.60" height="22.60" fill="#505a6a" />
<rect x="1720.00" y="286.00" width="40.60" height="22.60" fill="#505a6a" />
<rect x="1760.00" y="286.00" width="40.60" height="22.60" fill="#505a6a" />
<rect x="1800.00" y="286.00" width="40.60" height="22.60" fill="#4f5969" />
<rect x="1840.00" y="286.00" width="40.60" height="22.60" fill="#505a6a" />
<rect x="1880.00" y="286.00" width="40.60" height="22.60" fill="#505a6a" />
<rect x="1920.00" y="286.00" width="40.60" height="22.60" fill="#4f5969" />
<rect x="1960.00" y="286.00" width="40.60" height="22.60" fill="#4f5969" />
<rect x="2000.00" y="286.00" width="40.60" height="22.60" fill="#4f5969" />
<rect x="2040.00" y="286.00" width="40.60" height="22.60" fill="#4f5969" />
<rect x="2080.00" y="286.00" width="40.60" height="22.60" fill="#505a6a" />
<rect x="2120.00" y="286.00" width="40.60" height="22.60" fill="#515b6b" />
<rect x="2160.00" y="286.00" width="40.60" height="22.60" fill="#525b6b" />
<rect x="2200.00" y="286.00" width="40.60" height="22.60" fill="#525c6b" />
<rect x="2240.00" y="286.00" width="40.60" height="22.60" fill="#525c6b" />
<rect x="2280.00" y="286.00" width="40.60" height="22.60" fill="#57616f" />
<rect x="2320.00" y="286.00" width="40.60" height="22.60" fill="#656c79" />
<rect x="2360.00" y="286.00" width="40.60" height="22.60" fill="#7a7f89" />
<rect x="2400.00" y="286.00" width="40.60" height="22.60" fill="#8d9097" />
<rect x="2440.00" y="286.00" width="40.60" height="22.60" fill="#989a9f" />
<rect x="2480.00" y="286.00" width="40.60" height="22.60" fill="#9b9da1" />
<rect x="2520.00" y="286.00" width="40.60" height="22.60" fill="#9a9ba0" />
<rect x="2560.00" y="286.00" width="40.60" height="22.60" fill="#989a9e" />
<rect x="2600.00" y="286.00" width="40.60" height="22.60" fill="#95979d" />
<rect x="2640.00" y="286.00" width="40.60" height="22.60" fill="#92959b" />
<rect x="2680.00" y="286.00" width="40.60" height="22.60" fill="#909399" />
<rect x="2720.00" y="286.00" width="40.60" height="22.60" fill="#8e9197" />
<rect x="2760.00" y="286.00" width="40.60" height="22.60" fill="#8c8f96" />
<rect x="2800.00" y="286.00" width="40.60" height="22.60" fill="#8a8d94" />
<rect x="2840.00" y="286.00" width="40.60" height="22.60" fill="#878b92" />
<rect x="2880.00" y="286.00" width="40.60" height="22.60" fill="#838890" />
<rect x="2920.00" y="286.00" width="40.60" height="22.60" fill="#80858d" />
<rect x="2960.00" y="286.00" width="40.60" height="22.60" fill="#80858d" />
<rect x="3000.00" y="286.00" width="40.60" height="22.60" fill="#80858d" />
</g></g>
<text x="2785.67" y="101.25" font-size="44.62" fill="#ffffff" textLength="46.21" lengthAdjust="spacingAndGlyphs" stroke="#ffffff" stroke-width="0.50" stroke-linejoin="round" >31</text>
<circle cx="2838.60" cy="73.60" r="3.75" fill="none" stroke="#fff" stroke-width="2.6"/>
<text x="2847.92" y="85.85" font-size="28.05" fill="#ffffff" textLength="14.37" lengthAdjust="spacingAndGlyphs" stroke="#ffffff" stroke-width="0.50" stroke-linejoin="round" >F</text>
<text x="2858.66" y="101.25" font-size="44.33" fill="#ffffff" textLength="16.99" lengthAdjust="spacingAndGlyphs" stroke="#ffffff" stroke-width="0.50" stroke-linejoin="round" >,</text>
<text x="2882.71" y="101.25" font-size="44.33" fill="#ffffff" textLength="15.28" lengthAdjust="spacingAndGlyphs" stroke="#ffffff" stroke-width="0.50" stroke-linejoin="round" >-</text>
<text x="2898.16" y="101.25" font-size="43.90" fill="#ffffff" textLength="21.80" lengthAdjust="spacingAndGlyphs" stroke="#ffffff" stroke-width="0.50" stroke-linejoin="round" >1</text>
<circle cx="2926.60" cy="74.20" r="3.75" fill="none" stroke="#fff" stroke-width="2.6"/>
<text x="2935.24" y="86.05" font-size="28.63" fill="#ffffff" textLength="17.22" lengthAdjust="spacingAndGlyphs" stroke="#ffffff" stroke-width="0.50" stroke-linejoin="round" >C</text>
<text x="2862.02" y="138.30" font-size="31.25" fill="#ffffff" textLength="90.53" lengthAdjust="spacingAndGlyphs" stroke="#ffffff" stroke-width="1.00" stroke-linejoin="round" >Cloudy</text>
<rect x="35.00" y="300.00" width="1634.00" height="643.00" fill="#e4e4e4" />
<text x="63.61" y="353.64" font-size="29.03" fill="#5c616a" textLength="547.18" lengthAdjust="spacingAndGlyphs" stroke="#5c616a" stroke-width="0.72" stroke-linejoin="round" >CURRENT SYSTEM TIME : 12/05/2023 13:18</text>
<circle cx="350.70" cy="617.00" r="225.00" fill="#ffffff" />
<path d="M350.70,617.00 L129.02,578.51 A225,225 0 0,0 129.02,655.49 Z" fill="#a0bb6d"/>
<circle cx="350.70" cy="617.00" r="112.50" fill="#e4e4e4" />
<text x="305.19" y="571.74" font-size="28.47" fill="#5c616a" textLength="86.94" lengthAdjust="spacingAndGlyphs" stroke="#5c616a" stroke-width="0.71" stroke-linejoin="round" >SOLAR</text>
<text x="273.35" y="637.04" font-size="71.93" fill="#7ea83a" font-weight="bold" textLength="143.02" lengthAdjust="spacingAndGlyphs" stroke="#7ea83a" stroke-width="1.11" stroke-linejoin="round" >0.29</text>
<text x="325.39" y="672.91" font-size="31.30" fill="#7ea83a" textLength="38.71" lengthAdjust="spacingAndGlyphs" stroke="#7ea83a" stroke-width="0.78" stroke-linejoin="round" >kW</text>
<text x="71.53" y="877.54" font-size="28.61" fill="#5c616a" textLength="197.07" lengthAdjust="spacingAndGlyphs" stroke="#5c616a" stroke-width="0.71" stroke-linejoin="round" >5.3kW Capacity</text>
<text x="662.37" y="420.51" font-size="37.53" fill="#7a7a7a" font-weight="bold" textLength="318.03" lengthAdjust="spacingAndGlyphs" stroke="#7a7a7a" stroke-width="0.58" stroke-linejoin="round" >Right Now, You are</text>
<text x="657.47" y="545.63" font-size="125.95" fill="#7ea83a" font-weight="bold" textLength="730.97" lengthAdjust="spacingAndGlyphs" stroke="#7ea83a" stroke-width="1.95" stroke-linejoin="round" >PRODUCING</text>
<text x="662.69" y="635.90" font-size="71.96" fill="#7ea83a" textLength="169.82" lengthAdjust="spacingAndGlyphs" stroke="#7ea83a" stroke-width="1.80" stroke-linejoin="round" >Solar</text>
<text x="1027.94" y="635.60" font-size="71.96" fill="#7ea83a" textLength="230.80" lengthAdjust="spacingAndGlyphs" stroke="#7ea83a" stroke-width="1.80" stroke-linejoin="round" >0.29kW</text>
<text x="663.51" y="723.10" font-size="71.96" fill="#7a7a7a" textLength="156.83" lengthAdjust="spacingAndGlyphs" stroke="#7a7a7a" stroke-width="1.80" stroke-linejoin="round" >Load</text>
<text x="1066.24" y="723.10" font-size="71.96" fill="#7a7a7a" textLength="192.49" lengthAdjust="spacingAndGlyphs" stroke="#7a7a7a" stroke-width="1.80" stroke-linejoin="round" >0.5kW</text>
<text x="662.86" y="811.60" font-size="71.96" fill="#a0302a" textLength="325.24" lengthAdjust="spacingAndGlyphs" stroke="#a0302a" stroke-width="1.80" stroke-linejoin="round" >Generator</text>
<text x="1065.47" y="811.40" font-size="71.96" fill="#a0302a" textLength="193.27" lengthAdjust="spacingAndGlyphs" stroke="#a0302a" stroke-width="1.80" stroke-linejoin="round" >2.4kW</text>
<text x="1787.88" y="326.32" font-size="30.44" fill="#7a7a7a" textLength="186.33" lengthAdjust="spacingAndGlyphs" stroke="#7a7a7a" stroke-width="0.76" stroke-linejoin="round" >POWER FLOW</text>
<circle cx="2556.50" cy="356.90" r="9.20" fill="#7a7a7a" />
<rect x="2554.60" y="348.50" width="3.80" height="3.20" fill="#fff" />
<path d="M2552.8,353.5 H2558.3 V361.4 H2560.2 V364.3 H2552.5 V361.4 H2554.4 V356.3 H2552.8 Z" fill="#fff"/>
<polygon points="1905.70,344.30 1919.91,360.25 1940.79,355.70 1942.91,376.96 1962.48,385.55 1951.70,404.00 1962.48,422.45 1942.91,431.04 1940.79,452.30 1919.91,447.75 1905.70,463.70 1891.49,447.75 1870.61,452.30 1868.49,431.04 1848.92,422.45 1859.70,404.00 1848.92,385.55 1868.49,376.96 1870.61,355.70 1891.49,360.25" fill="#f0c470" stroke="#f0c470" stroke-width="2" stroke-linejoin="round"/>
<circle cx="1905.70" cy="404.00" r="38.60" fill="#ffffff" />
<g transform="translate(1976.3,470.1) rotate(-40.3)">
<rect x="-143.80" y="-16.00" width="287.80" height="6.60" fill="#7a7a7a" />
<rect x="-143.80" y="-7.50" width="287.80" height="6.60" fill="#7a7a7a" />
<rect x="-143.80" y="1.00" width="287.80" height="6.60" fill="#7a7a7a" />
<rect x="-143.80" y="9.50" width="287.80" height="6.60" fill="#7a7a7a" />
<rect x="-44.70" y="-20.00" width="4.20" height="40.00" fill="#ffffff" />
<rect x="55.60" y="-20.00" width="4.20" height="40.00" fill="#ffffff" />
</g>
<circle cx="2036.20" cy="482.50" r="5.00" fill="#7ea83a" />
<circle cx="2036.20" cy="497.30" r="5.00" fill="#eee3cc" />
<circle cx="2036.20" cy="497.30" r="3.10" fill="#7ea83a" opacity="0.9"/>
<circle cx="2036.20" cy="512.00" r="5.00" fill="#7ea83a" />
<circle cx="2036.20" cy="526.40" r="5.00" fill="#7ea83a" />
<circle cx="2019.40" cy="526.40" r="5.00" fill="#7ea83a" />
<circle cx="2004.70" cy="526.40" r="5.00" fill="#eee3cc" />
<circle cx="2004.70" cy="526.40" r="3.10" fill="#7ea83a" opacity="0.9"/>
<circle cx="1989.90" cy="526.40" r="5.00" fill="#7ea83a" />
<circle cx="1975.40" cy="526.40" r="5.00" fill="#7ea83a" />
<rect x="1955.70" y="539.30" width="38.60" height="121.80" fill="#7a7a7a" />
<rect x="1960.40" y="546.20" width="4.20" height="49.60" fill="#fff" />
<rect x="1960.40" y="615.00" width="4.20" height="38.70" fill="#fff" />
<rect x="1973.10" y="546.20" width="4.20" height="49.60" fill="#fff" />
<rect x="1973.10" y="615.00" width="4.20" height="38.70" fill="#fff" />
<rect x="1986.00" y="546.20" width="4.20" height="49.60" fill="#fff" />
<rect x="1986.00" y="615.00" width="4.20" height="38.70" fill="#fff" />
<rect x="1964.00" y="601.30" width="21.00" height="7.40" fill="#fff" />
<rect x="1958.50" y="660.00" width="6.00" height="3.00" fill="#7a7a7a" />
<circle cx="1975.00" cy="671.00" r="5.00" fill="#7ea83a" />
<circle cx="1975.00" cy="685.73" r="5.00" fill="#eee3cc" />
<circle cx="1975.00" cy="685.73" r="3.10" fill="#7ea83a" opacity="0.9"/>
<circle cx="1975.00" cy="700.46" r="5.00" fill="#7ea83a" />
<circle cx="1975.00" cy="715.19" r="5.00" fill="#7ea83a" />
<circle cx="1975.00" cy="729.92" r="5.00" fill="#7ea83a" />
<circle cx="1975.00" cy="744.65" r="5.00" fill="#7ea83a" />
<circle cx="1975.00" cy="759.38" r="5.00" fill="#7ea83a" />
<circle cx="1975.00" cy="774.11" r="5.00" fill="#7ea83a" />
<text x="1850.29" y="687.76" font-size="27.07" fill="#8aad4a" textLength="98.36" lengthAdjust="spacingAndGlyphs" stroke="#8aad4a" stroke-width="0.68" stroke-linejoin="round" >0.29 kW</text>
<circle cx="2045.80" cy="774.50" r="5.00" fill="#a33228" />
<circle cx="2045.80" cy="759.90" r="5.00" fill="#a33228" />
<circle cx="2045.80" cy="745.30" r="5.00" fill="#a33228" />
<circle cx="2045.80" cy="730.70" r="5.00" fill="#a33228" />
<circle cx="2045.80" cy="716.10" r="5.00" fill="#eee3cc" />
<circle cx="2045.80" cy="716.10" r="3.10" fill="#a33228" opacity="0.9"/>
<circle cx="2045.80" cy="701.50" r="5.00" fill="#a33228" />
<circle cx="2062.80" cy="701.50" r="5.00" fill="#a33228" />
<circle cx="2077.30" cy="701.50" r="5.00" fill="#a33228" />
<circle cx="2092.20" cy="701.50" r="5.00" fill="#a33228" />
<circle cx="2106.70" cy="701.50" r="5.00" fill="#a33228" />
<circle cx="2121.10" cy="701.50" r="5.00" fill="#a33228" />
<circle cx="2135.80" cy="701.50" r="5.00" fill="#a33228" />
<circle cx="2150.70" cy="701.50" r="5.00" fill="#eee3cc" />
<circle cx="2150.70" cy="701.50" r="3.10" fill="#a33228" opacity="0.9"/>
<circle cx="2165.60" cy="701.50" r="5.00" fill="#a33228" />
<circle cx="2180.70" cy="701.50" r="5.00" fill="#a33228" />
<circle cx="2195.60" cy="701.50" r="5.00" fill="#eee3cc" />
<circle cx="2195.60" cy="701.50" r="3.10" fill="#a33228" opacity="0.9"/>
<circle cx="2210.00" cy="701.50" r="5.00" fill="#a33228" />
<rect x="1955.70" y="797.00" width="110.80" height="75.20" fill="#3a8a27" rx="2.5"/>
<rect x="1965.40" y="785.40" width="20.60" height="14.00" fill="#3a8a27" rx="2"/>
<rect x="2035.00" y="785.40" width="20.80" height="14.00" fill="#3a8a27" rx="2"/>
<text x="1985.81" y="844.25" font-size="28.05" fill="#ffffff" textLength="56.86" lengthAdjust="spacingAndGlyphs" stroke="#ffffff" stroke-width="0.70" stroke-linejoin="round" >62%</text>
<text x="1972.99" y="902.67" font-size="26.23" fill="#3a8a27" textLength="74.80" lengthAdjust="spacingAndGlyphs" stroke="#3a8a27" stroke-width="0.65" stroke-linejoin="round" >51.8 V</text>
<text x="1977.63" y="941.26" font-size="26.93" fill="#3a8a27" textLength="65.02" lengthAdjust="spacingAndGlyphs" stroke="#3a8a27" stroke-width="0.67" stroke-linejoin="round" >24 °C</text>
<text x="2089.23" y="677.43" font-size="29.46" fill="#9e2a22" textLength="83.40" lengthAdjust="spacingAndGlyphs" stroke="#9e2a22" stroke-width="0.74" stroke-linejoin="round" >1.9 kW</text>
<path d="M2236.1,501.4 L2236.1,496.2 C2230,487 2225.6,478 2225.6,467.6 C2225.6,452 2239,442.4 2256.4,442.4 C2274,442.4 2287.2,452 2287.2,467.6 C2287.2,478 2282,487 2274.8,496.2 L2274.8,501.4 Z" fill="#7a7a7a"/>
<path d="M2245.1,474 Q2245.1,472.1 2247,472.1 L2265.4,472.1 Q2267.3,472.1 2267.3,474 L2263.2,496.2 L2260.2,496.2 L2260.9,479 Q2260.9,478.1 2260,478.1 L2251,478.1 Q2250,478.1 2250,479 L2251.5,496.2 L2248.1,496.2 Z" fill="#fff"/>
<rect x="2233.50" y="505.60" width="43.90" height="6.40" fill="#7a7a7a" rx="3.2"/>
<path d="M2239.1,517.6 L2272.6,517.6 L2273.3,532 Q2256,537 2238.4,532 Z" fill="#7a7a7a"/>
<path d="M2247,540.2 L2263.5,540.2 Q2262,544.7 2255.2,544.7 Q2248.5,544.7 2247,540.2 Z" fill="#7a7a7a"/>
<circle cx="2254.00" cy="558.60" r="5.00" fill="#a33228" />
<circle cx="2254.00" cy="573.26" r="5.00" fill="#a33228" />
<circle cx="2254.00" cy="587.92" r="5.00" fill="#a33228" />
<circle cx="2254.00" cy="602.58" r="5.00" fill="#a33228" />
<circle cx="2254.00" cy="617.24" r="5.00" fill="#eee3cc" />
<circle cx="2254.00" cy="617.24" r="3.10" fill="#a33228" opacity="0.9"/>
<circle cx="2254.00" cy="631.90" r="5.00" fill="#a33228" />
<text x="2281.91" y="589.15" font-size="28.05" fill="#9e2a22" textLength="83.03" lengthAdjust="spacingAndGlyphs" stroke="#9e2a22" stroke-width="0.70" stroke-linejoin="round" >0.5 kW</text>
<rect x="2216.00" y="644.50" width="76.90" height="103.60" fill="#7a7a7a" rx="1.5"/>
<rect x="2216.00" y="752.90" width="76.90" height="24.70" fill="#7a7a7a" rx="1.5"/>
<path d="M2236,654 L2284.3,655 L2284.3,684.8 L2236,683.8 C2229,681 2227,676 2227,669 C2227,661 2229,656 2236,654 Z" fill="#fff"/>
<rect x="2236.20" y="658.80" width="6.00" height="23.00" fill="#7a7a7a" />
<rect x="2248.10" y="658.80" width="6.00" height="23.00" fill="#7a7a7a" />
<rect x="2260.00" y="658.80" width="6.00" height="23.00" fill="#7a7a7a" />
<rect x="2272.40" y="658.80" width="6.00" height="23.00" fill="#7a7a7a" />
<rect x="2237.40" y="756.90" width="20.70" height="6.00" fill="#fff" />
<rect x="2237.40" y="767.60" width="20.70" height="5.50" fill="#fff" />
<rect x="2267.10" y="756.90" width="21.50" height="6.00" fill="#fff" />
<rect x="2267.10" y="767.60" width="21.50" height="5.50" fill="#fff" />
<circle cx="2298.60" cy="701.40" r="5.00" fill="#808080" />
<circle cx="2313.43" cy="701.40" r="5.00" fill="#808080" />
<circle cx="2328.26" cy="701.40" r="5.00" fill="#808080" />
<circle cx="2343.09" cy="701.40" r="5.00" fill="#808080" />
<circle cx="2357.92" cy="701.40" r="5.00" fill="#808080" />
<circle cx="2372.75" cy="701.40" r="5.00" fill="#808080" />
<circle cx="2387.58" cy="701.40" r="5.00" fill="#808080" />
<circle cx="2402.41" cy="701.40" r="5.00" fill="#808080" />
<circle cx="2417.24" cy="701.40" r="5.00" fill="#808080" />
<circle cx="2432.07" cy="701.40" r="5.00" fill="#808080" />
<circle cx="2254.00" cy="790.60" r="5.00" fill="#a33228" />
<circle cx="2254.00" cy="805.22" r="5.00" fill="#a33228" />
<circle cx="2254.00" cy="819.84" r="5.00" fill="#a33228" />
<circle cx="2254.00" cy="834.46" r="5.00" fill="#a33228" />
<circle cx="2254.00" cy="849.08" r="5.00" fill="#eee3cc" />
<circle cx="2254.00" cy="849.08" r="3.10" fill="#a33228" opacity="0.9"/>
<circle cx="2254.00" cy="863.70" r="5.00" fill="#a33228" />
<text x="2281.51" y="848.53" font-size="29.46" fill="#9e2a22" textLength="83.81" lengthAdjust="spacingAndGlyphs" stroke="#9e2a22" stroke-width="0.74" stroke-linejoin="round" >2.4 kW</text>
<rect x="2463.40" y="669.40" width="7.30" height="82.30" fill="#e6e6e6" />
<rect x="2438.00" y="676.70" width="59.80" height="4.50" fill="#e6e6e6" />
<rect x="2438.00" y="671.00" width="4.00" height="6.00" fill="#e6e6e6" />
<rect x="2450.00" y="671.00" width="4.00" height="6.00" fill="#e6e6e6" />
<rect x="2479.00" y="671.00" width="4.00" height="6.00" fill="#e6e6e6" />
<rect x="2491.00" y="671.00" width="4.00" height="6.00" fill="#e6e6e6" />
<rect x="2532.80" y="633.80" width="7.90" height="82.90" fill="#e6e6e6" />
<rect x="2510.00" y="640.60" width="55.50" height="4.40" fill="#e6e6e6" />
<rect x="2510.00" y="635.00" width="4.00" height="6.00" fill="#e6e6e6" />
<rect x="2522.00" y="635.00" width="4.00" height="6.00" fill="#e6e6e6" />
<rect x="2551.00" y="635.00" width="4.00" height="6.00" fill="#e6e6e6" />
<rect x="2561.00" y="635.00" width="4.00" height="6.00" fill="#e6e6e6" />
<line x1="2441" y1="672" x2="2512" y2="636" stroke="#e6e6e6" stroke-width="1.6"/>
<line x1="2453" y1="672" x2="2524" y2="636" stroke="#e6e6e6" stroke-width="1.6"/>
<line x1="2482" y1="672" x2="2553" y2="636" stroke="#e6e6e6" stroke-width="1.6"/>
<line x1="2494" y1="672" x2="2564" y2="636" stroke="#e6e6e6" stroke-width="1.6"/>
<rect x="2240.1" y="877.9" width="32.1" height="10.7" rx="3" fill="#7a7a7a"/>
<rect x="2250.80" y="887.50" width="10.20" height="4.60" fill="#7a7a7a" />
<path d="M2228.3,907.2 L2238.4,897.1 Q2239,896.2 2240.4,896.2 L2280,896.2 Q2283,896.2 2283,899.3 L2283,932 L2265.5,950 L2238.4,950 L2228.3,939.6 L2221,939.6 Q2218.1,939.6 2218.1,936.6 L2218.1,910.2 Q2218.1,907.2 2221,907.2 Z" fill="#7a7a7a"/>
<rect x="2203.5" y="907.2" width="10.1" height="32.4" rx="3" fill="#7a7a7a"/>
<rect x="2213.00" y="918.20" width="5.60" height="10.40" fill="#7a7a7a" />
<rect x="2287.5" y="907.2" width="10.1" height="32.4" rx="3" fill="#7a7a7a"/>
<rect x="2282.50" y="918.20" width="5.50" height="10.40" fill="#7a7a7a" />
<path d="M2252,906.6 L2262.1,906.6 L2254.2,921 L2262.1,921 L2245.7,941.6 L2250.8,925.8 L2244.1,925.3 Z" fill="#fff"/>
<text x="2320.58" y="912.64" font-size="28.89" fill="#7a7a7a" textLength="101.83" lengthAdjust="spacingAndGlyphs" stroke="#7a7a7a" stroke-width="0.72" stroke-linejoin="round" >235 VAC</text>
<text x="2320.77" y="947.64" font-size="28.89" fill="#7a7a7a" textLength="93.52" lengthAdjust="spacingAndGlyphs" stroke="#7a7a7a" stroke-width="0.72" stroke-linejoin="round" >59.9 Hz</text>
<rect x="35.00" y="975.00" width="2918.00" height="15.50" fill="#e4e4e4" />
<rect x="36" y="1031" width="336.5" height="52" fill="#fff" stroke="#d0d0d0" stroke-width="2"/>
<text x="61.06" y="1068.92" font-size="30.44" fill="#5c616a" textLength="140.02" lengthAdjust="spacingAndGlyphs" stroke="#5c616a" stroke-width="0.76" stroke-linejoin="round" >The Day Of</text>
<polyline points="335.5,1052.5 344,1061.5 352.5,1052.5" fill="none" stroke="#555" stroke-width="2.6"/>
<polyline points="418.5,1050.5 409.6,1059.3 418.5,1068.1" fill="none" stroke="#5f6166" stroke-width="2.9"/>
<rect x="445" y="1033" width="139.5" height="52" fill="#fff" stroke="#d0d0d0" stroke-width="2"/>
<text x="460.94" y="1068.56" font-size="26.93" fill="#63676e" textLength="107.34" lengthAdjust="spacingAndGlyphs" stroke="#63676e" stroke-width="0.67" stroke-linejoin="round" >12/05/23</text>
<polyline points="610.5,1050.5 619.4,1059.3 610.5,1068.1" fill="none" stroke="#5f6166" stroke-width="2.9"/>
<rect x="640.00" y="1034.00" width="127.00" height="50.00" fill="#3b3b3b" />
<text x="665.93" y="1068.67" font-size="26.09" fill="#fff" textLength="75.83" lengthAdjust="spacingAndGlyphs" stroke="#fff" stroke-width="0.65" stroke-linejoin="round" >TODAY</text>
<rect x="773.00" y="1034.00" width="227.70" height="50.00" fill="#3b3b3b" />
<text x="798.09" y="1068.67" font-size="26.09" fill="#fff" textLength="176.12" lengthAdjust="spacingAndGlyphs" stroke="#fff" stroke-width="0.65" stroke-linejoin="round" >INVERTER DATA</text>
<circle cx="1088.40" cy="1056.70" r="14.30" fill="#6f9a2e" />
<text x="1113.03" y="1066.64" font-size="29.17" fill="#6f9a2e" textLength="68.49" lengthAdjust="spacingAndGlyphs" stroke="#6f9a2e" stroke-width="0.73" stroke-linejoin="round" >Solar</text>
<text x="1097.42" y="1117.15" font-size="27.77" fill="#6f9a2e" textLength="95.87" lengthAdjust="spacingAndGlyphs" stroke="#6f9a2e" stroke-width="0.69" stroke-linejoin="round" >2.4kWh</text>
<circle cx="1306.00" cy="1056.70" r="14.30" fill="#4567dd" />
<text x="1330.53" y="1066.64" font-size="29.17" fill="#4567dd" textLength="130.36" lengthAdjust="spacingAndGlyphs" stroke="#4567dd" stroke-width="0.73" stroke-linejoin="round" >To Battery</text>
<text x="1341.84" y="1117.15" font-size="27.77" fill="#4567dd" textLength="110.43" lengthAdjust="spacingAndGlyphs" stroke="#4567dd" stroke-width="0.69" stroke-linejoin="round" >2.68kWh</text>
<circle cx="1569.00" cy="1056.70" r="14.30" fill="#94cde9" />
<text x="1592.97" y="1066.64" font-size="29.17" fill="#94cde9" textLength="168.42" lengthAdjust="spacingAndGlyphs" stroke="#94cde9" stroke-width="0.73" stroke-linejoin="round" >From Battery</text>
<text x="1621.70" y="1117.15" font-size="27.77" fill="#94cde9" textLength="110.57" lengthAdjust="spacingAndGlyphs" stroke="#94cde9" stroke-width="0.69" stroke-linejoin="round" >4.21kWh</text>
<rect x="285.5" y="1185" width="106.5" height="41" fill="#3f3f3f" stroke="#c8c8c8" stroke-width="1.5"/>
<text x="309.67" y="1214.90" font-size="23.70" fill="#fff" textLength="42.41" lengthAdjust="spacingAndGlyphs" stroke="#fff" stroke-width="0.60" stroke-linejoin="round" >kWh</text>
<polyline points="360,1208 366,1214 372.3,1208" fill="none" stroke="#fff" stroke-width="2.2"/>
<rect x="409.1" y="1201.3" width="19.9" height="18.4" rx="2" fill="#000"/>
<path d="M425.7,1202 V1197 A5.95,5.95 0 0,1 437.6,1197 V1201.3" fill="none" stroke="#000" stroke-width="4.4"/>
<rect x="458.8" y="1188.4" width="31.2" height="26.6" rx="2" fill="none" stroke="#000" stroke-width="2"/>
<rect x="462.7" y="1192.4" width="30.8" height="26.3" rx="2" fill="#fff" stroke="#000" stroke-width="2"/>
<path d="M466,1215.5 L466,1211 L475,1200 L482,1209 L490.5,1202.5 L490.5,1215.5 Z" fill="#000"/>
<circle cx="485.60" cy="1198.20" r="2.60" fill="#000" />
<rect x="2657.5" y="1185.8" width="140" height="39.4" fill="#3f3f3f" stroke="#cccccc" stroke-width="2"/>
<text x="2681.05" y="1216.72" font-size="22.72" fill="#fff" textLength="38.53" lengthAdjust="spacingAndGlyphs" stroke="#fff" stroke-width="0.57" stroke-linejoin="round" >AVG</text>
<polyline points="2766,1203.5 2772.5,1210.5 2779,1203.5" fill="none" stroke="#fff" stroke-width="2.2"/>
<rect x="2810" y="1185" width="142" height="40.7" fill="#3f3f3f" stroke="#111" stroke-width="2"/>
<text x="2834.42" y="1216.72" font-size="22.72" fill="#fff" textLength="41.01" lengthAdjust="spacingAndGlyphs" stroke="#fff" stroke-width="0.57" stroke-linejoin="round" >SOC</text>
<polyline points="2919.5,1203.5 2926.3,1210.5 2933,1203.5" fill="none" stroke="#fff" stroke-width="2.2"/>
<rect x="36.3" y="1228" width="215.5" height="187" fill="#fff" stroke="#dddddd" stroke-width="1.5"/>
<polygon points="144.10,1268.30 151.52,1276.37 162.26,1274.20 163.52,1285.09 173.49,1289.65 168.10,1299.20 173.49,1308.75 163.52,1313.31 162.26,1324.20 151.52,1322.03 144.10,1330.10 136.68,1322.03 125.94,1324.20 124.68,1313.31 114.71,1308.75 120.10,1299.20 114.71,1289.65 124.68,1285.09 125.94,1274.20 136.68,1276.37" fill="#777777"/>
<circle cx="144.10" cy="1299.20" r="20.00" fill="#fff" />
<text x="96.37" y="1376.43" font-size="22.02" fill="#777777" textLength="94.50" lengthAdjust="spacingAndGlyphs" stroke="#777777" stroke-width="0.55" stroke-linejoin="round" >Summary</text>
<rect x="49.40" y="1416.50" width="203.00" height="188.50" fill="#e4e4e4" />
<rect x="49.40" y="1605.50" width="203.00" height="188.50" fill="#e4e4e4" />
<rect x="49.40" y="1794.00" width="203.00" height="187.60" fill="#e4e4e4" />
<rect x="49.40" y="1415.50" width="203.00" height="2.20" fill="#6f6f6f" />
<rect x="49.40" y="1604.20" width="203.00" height="2.20" fill="#6f6f6f" />
<rect x="49.40" y="1792.50" width="203.00" height="2.20" fill="#6f6f6f" />
<path d="M137.2,1516 V1460 Q150.9,1455.2 164.6,1460 V1516 Z" fill="#777777"/>
<rect x="141.70" y="1466.20" width="18.80" height="2.10" fill="#fff" />
<rect x="141.70" y="1474.40" width="18.80" height="2.10" fill="#fff" />
<rect x="141.70" y="1482.50" width="18.80" height="2.10" fill="#fff" />
<rect x="141.70" y="1490.60" width="18.80" height="2.10" fill="#fff" />
<path d="M141.4,1497.8 Q150.9,1503.6 160.6,1497.8 V1510.5 H141.4 Z" fill="#fff"/>
<rect x="146.20" y="1504.20" width="9.40" height="2.60" fill="#777777" rx="1"/>
<rect x="135.40" y="1466.40" width="2.20" height="1.60" fill="#777777" />
<rect x="164.40" y="1466.40" width="2.20" height="1.60" fill="#777777" />
<rect x="135.40" y="1470.50" width="2.20" height="1.60" fill="#777777" />
<rect x="164.40" y="1470.50" width="2.20" height="1.60" fill="#777777" />
<rect x="135.40" y="1475.20" width="2.20" height="1.60" fill="#777777" />
<rect x="164.40" y="1475.20" width="2.20" height="1.60" fill="#777777" />
<rect x="135.40" y="1480.00" width="2.20" height="1.60" fill="#777777" />
<rect x="164.40" y="1480.00" width="2.20" height="1.60" fill="#777777" />
<rect x="135.40" y="1484.70" width="2.20" height="1.60" fill="#777777" />
<rect x="164.40" y="1484.70" width="2.20" height="1.60" fill="#777777" />
<rect x="135.40" y="1489.30" width="2.20" height="1.60" fill="#777777" />
<rect x="164.40" y="1489.30" width="2.20" height="1.60" fill="#777777" />
<rect x="135.40" y="1494.00" width="2.20" height="1.60" fill="#777777" />
<rect x="164.40" y="1494.00" width="2.20" height="1.60" fill="#777777" />
<rect x="135.40" y="1498.80" width="2.20" height="1.60" fill="#777777" />
<rect x="164.40" y="1498.80" width="2.20" height="1.60" fill="#777777" />
<rect x="135.40" y="1507.80" width="2.20" height="1.60" fill="#777777" />
<rect x="164.40" y="1507.80" width="2.20" height="1.60" fill="#777777" />
<rect x="142.10" y="1515.50" width="1.60" height="2.50" fill="#777777" />
<rect x="145.70" y="1515.50" width="1.60" height="2.50" fill="#777777" />
<rect x="151.70" y="1515.50" width="1.60" height="2.50" fill="#777777" />
<rect x="158.10" y="1515.50" width="1.60" height="2.50" fill="#777777" />
<text x="106.90" y="1565.04" font-size="21.04" fill="#777777" textLength="86.74" lengthAdjust="spacingAndGlyphs" stroke="#777777" stroke-width="0.53" stroke-linejoin="round" >Inverters</text>
<rect x="141.50" y="1646.40" width="19.30" height="60.10" fill="#777777" />
<rect x="143.90" y="1649.50" width="1.80" height="24.00" fill="#e4e4e4" />
<rect x="143.90" y="1679.50" width="1.80" height="24.50" fill="#e4e4e4" />
<rect x="149.60" y="1649.50" width="1.80" height="24.00" fill="#e4e4e4" />
<rect x="149.60" y="1679.50" width="1.80" height="24.50" fill="#e4e4e4" />
<rect x="155.30" y="1649.50" width="1.80" height="24.00" fill="#e4e4e4" />
<rect x="155.30" y="1679.50" width="1.80" height="24.50" fill="#e4e4e4" />
<rect x="145.50" y="1677.00" width="11.00" height="3.20" fill="#e4e4e4" />
<text x="59.66" y="1753.34" font-size="21.04" fill="#777777" textLength="182.06" lengthAdjust="spacingAndGlyphs" stroke="#777777" stroke-width="0.53" stroke-linejoin="round" >Charge Controllers</text>
<rect x="130.20" y="1854.30" width="41.80" height="28.10" fill="#777777" />
<rect x="134.00" y="1849.80" width="7.50" height="5.00" fill="#777777" rx="1"/>
<rect x="160.30" y="1849.80" width="8.00" height="5.00" fill="#777777" rx="1"/>
<text x="114.33" y="1943.03" font-size="21.88" fill="#777777" textLength="71.24" lengthAdjust="spacingAndGlyphs" stroke="#777777" stroke-width="0.55" stroke-linejoin="round" >Battery</text>
<rect x="445.50" y="1776.13" width="31.10" height="229.37" fill="#97cde9" />
<rect x="550.64" y="1798.33" width="31.10" height="207.17" fill="#97cde9" />
<rect x="655.78" y="1783.53" width="31.10" height="221.97" fill="#97cde9" />
<rect x="760.92" y="1753.93" width="31.10" height="251.57" fill="#97cde9" />
<rect x="866.06" y="1746.53" width="31.10" height="258.97" fill="#97cde9" />
<rect x="971.20" y="1724.34" width="31.10" height="281.16" fill="#97cde9" />
<rect x="1076.34" y="1709.54" width="31.10" height="295.96" fill="#97cde9" />
<rect x="1181.48" y="1702.14" width="31.10" height="303.36" fill="#97cde9" />
<rect x="1286.62" y="1420.98" width="31.10" height="584.52" fill="#97cde9" />
<rect x="1391.76" y="1739.14" width="31.10" height="266.36" fill="#97cde9" />
<rect x="1496.90" y="1946.31" width="31.10" height="59.19" fill="#97cde9" />
<rect x="1602.04" y="1983.30" width="31.10" height="22.20" fill="#97cde9" />
<rect x="1707.18" y="1916.71" width="31.10" height="88.79" fill="#97cde9" />
<rect x="1812.32" y="1961.11" width="31.10" height="44.39" fill="#97cde9" />
<rect x="1255.42" y="1998.10" width="31.20" height="7.40" fill="#4a6ad9" />
<rect x="1360.56" y="1909.31" width="31.20" height="96.19" fill="#4a6ad9" />
<rect x="1465.70" y="1731.74" width="31.20" height="273.76" fill="#4a6ad9" />
<rect x="1570.84" y="1287.80" width="31.20" height="717.70" fill="#4a6ad9" />
<rect x="1675.98" y="1635.55" width="31.20" height="369.95" fill="#4a6ad9" />
<rect x="1781.12" y="1487.57" width="31.20" height="517.93" fill="#4a6ad9" />
<rect x="1329.56" y="1635.55" width="31.00" height="369.95" fill="#71962f" />
<rect x="1434.70" y="1561.56" width="31.00" height="443.94" fill="#71962f" />
<rect x="1539.84" y="1561.56" width="31.00" height="443.94" fill="#71962f" />
<rect x="1644.98" y="1635.55" width="31.00" height="369.95" fill="#71962f" />
<rect x="1750.12" y="1857.52" width="31.00" height="147.98" fill="#71962f" />
<rect x="379.80" y="1264.00" width="3.60" height="752.80" fill="#000000" />
<rect x="369.80" y="1264.10" width="11.00" height="3.00" fill="#000000" />
<text x="349.29" y="1274.58" font-size="25.80" fill="#666a70" stroke="#666a70" stroke-width="0.65" stroke-linejoin="round" >1</text>
<rect x="369.80" y="1338.09" width="11.00" height="3.00" fill="#000000" />
<text x="313.17" y="1348.57" font-size="25.80" fill="#666a70" stroke="#666a70" stroke-width="0.65" stroke-linejoin="round" >0.90</text>
<rect x="369.80" y="1412.08" width="11.00" height="3.00" fill="#000000" />
<text x="313.17" y="1422.56" font-size="25.80" fill="#666a70" stroke="#666a70" stroke-width="0.65" stroke-linejoin="round" >0.80</text>
<rect x="369.80" y="1486.07" width="11.00" height="3.00" fill="#000000" />
<text x="313.17" y="1496.55" font-size="25.80" fill="#666a70" stroke="#666a70" stroke-width="0.65" stroke-linejoin="round" >0.70</text>
<rect x="369.80" y="1560.06" width="11.00" height="3.00" fill="#000000" />
<text x="313.17" y="1570.54" font-size="25.80" fill="#666a70" stroke="#666a70" stroke-width="0.65" stroke-linejoin="round" >0.60</text>
<rect x="369.80" y="1634.05" width="11.00" height="3.00" fill="#000000" />
<text x="313.17" y="1644.53" font-size="25.80" fill="#666a70" stroke="#666a70" stroke-width="0.65" stroke-linejoin="round" >0.50</text>
<rect x="369.80" y="1708.04" width="11.00" height="3.00" fill="#000000" />
<text x="313.17" y="1718.52" font-size="25.80" fill="#666a70" stroke="#666a70" stroke-width="0.65" stroke-linejoin="round" >0.40</text>
<rect x="369.80" y="1782.03" width="11.00" height="3.00" fill="#000000" />
<text x="313.17" y="1792.51" font-size="25.80" fill="#666a70" stroke="#666a70" stroke-width="0.65" stroke-linejoin="round" >0.30</text>
<rect x="369.80" y="1856.02" width="11.00" height="3.00" fill="#000000" />
<text x="313.17" y="1866.50" font-size="25.80" fill="#666a70" stroke="#666a70" stroke-width="0.65" stroke-linejoin="round" >0.20</text>
<rect x="369.80" y="1930.01" width="11.00" height="3.00" fill="#000000" />
<text x="313.17" y="1940.49" font-size="25.80" fill="#666a70" stroke="#666a70" stroke-width="0.65" stroke-linejoin="round" >0.10</text>
<rect x="369.80" y="2004.00" width="11.00" height="3.00" fill="#000000" />
<text x="349.04" y="2014.48" font-size="25.80" fill="#666a70" stroke="#666a70" stroke-width="0.65" stroke-linejoin="round" >0</text>
<rect x="369.80" y="2003.70" width="2526.20" height="3.60" fill="#000000" />
<rect x="427.10" y="2006.00" width="3.00" height="10.80" fill="#000000" />
<text x="421.73" y="2041.28" font-size="25.80" fill="#666a70" stroke="#666a70" stroke-width="0.64" stroke-linejoin="round" >0</text>
<rect x="532.24" y="2006.00" width="3.00" height="10.80" fill="#000000" />
<text x="526.51" y="2041.28" font-size="25.80" fill="#666a70" stroke="#666a70" stroke-width="0.64" stroke-linejoin="round" >1</text>
<rect x="637.38" y="2006.00" width="3.00" height="10.80" fill="#000000" />
<text x="632.01" y="2041.28" font-size="25.80" fill="#666a70" stroke="#666a70" stroke-width="0.64" stroke-linejoin="round" >2</text>
<rect x="742.52" y="2006.00" width="3.00" height="10.80" fill="#000000" />
<text x="737.22" y="2041.28" font-size="25.80" fill="#666a70" stroke="#666a70" stroke-width="0.64" stroke-linejoin="round" >3</text>
<rect x="847.66" y="2006.00" width="3.00" height="10.80" fill="#000000" />
<text x="842.37" y="2041.28" font-size="25.80" fill="#666a70" stroke="#666a70" stroke-width="0.64" stroke-linejoin="round" >4</text>
<rect x="952.80" y="2006.00" width="3.00" height="10.80" fill="#000000" />
<text x="947.45" y="2041.28" font-size="25.80" fill="#666a70" stroke="#666a70" stroke-width="0.64" stroke-linejoin="round" >5</text>
<rect x="1057.94" y="2006.00" width="3.00" height="10.80" fill="#000000" />
<text x="1052.48" y="2041.28" font-size="25.80" fill="#666a70" stroke="#666a70" stroke-width="0.64" stroke-linejoin="round" >6</text>
<rect x="1163.08" y="2006.00" width="3.00" height="10.80" fill="#000000" />
<text x="1157.69" y="2041.28" font-size="25.80" fill="#666a70" stroke="#666a70" stroke-width="0.64" stroke-linejoin="round" >7</text>
<rect x="1268.22" y="2006.00" width="3.00" height="10.80" fill="#000000" />
<text x="1262.85" y="2041.28" font-size="25.80" fill="#666a70" stroke="#666a70" stroke-width="0.64" stroke-linejoin="round" >8</text>
<rect x="1373.36" y="2006.00" width="3.00" height="10.80" fill="#000000" />
<text x="1367.99" y="2041.28" font-size="25.80" fill="#666a70" stroke="#666a70" stroke-width="0.64" stroke-linejoin="round" >9</text>
<rect x="1478.50" y="2006.00" width="3.00" height="10.80" fill="#000000" />
<text x="1465.47" y="2041.28" font-size="25.80" fill="#666a70" stroke="#666a70" stroke-width="0.64" stroke-linejoin="round" >10</text>
<rect x="1583.64" y="2006.00" width="3.00" height="10.80" fill="#000000" />
<text x="1570.74" y="2041.28" font-size="25.80" fill="#666a70" stroke="#666a70" stroke-width="0.64" stroke-linejoin="round" >11</text>
<rect x="1688.78" y="2006.00" width="3.00" height="10.80" fill="#000000" />
<text x="1675.90" y="2041.28" font-size="25.80" fill="#666a70" stroke="#666a70" stroke-width="0.64" stroke-linejoin="round" >12</text>
<rect x="1793.92" y="2006.00" width="3.00" height="10.80" fill="#000000" />
<text x="1780.96" y="2041.28" font-size="25.80" fill="#666a70" stroke="#666a70" stroke-width="0.64" stroke-linejoin="round" >13</text>
<rect x="1899.06" y="2006.00" width="3.00" height="10.80" fill="#000000" />
<text x="1885.91" y="2041.28" font-size="25.80" fill="#666a70" stroke="#666a70" stroke-width="0.64" stroke-linejoin="round" >14</text>
<rect x="2004.20" y="2006.00" width="3.00" height="10.80" fill="#000000" />
<text x="1991.21" y="2041.28" font-size="25.80" fill="#666a70" stroke="#666a70" stroke-width="0.64" stroke-linejoin="round" >15</text>
<rect x="2109.34" y="2006.00" width="3.00" height="10.80" fill="#000000" />
<text x="2096.38" y="2041.28" font-size="25.80" fill="#666a70" stroke="#666a70" stroke-width="0.64" stroke-linejoin="round" >16</text>
<rect x="2214.48" y="2006.00" width="3.00" height="10.80" fill="#000000" />
<text x="2201.60" y="2041.28" font-size="25.80" fill="#666a70" stroke="#666a70" stroke-width="0.64" stroke-linejoin="round" >17</text>
<rect x="2319.62" y="2006.00" width="3.00" height="10.80" fill="#000000" />
<text x="2306.65" y="2041.28" font-size="25.80" fill="#666a70" stroke="#666a70" stroke-width="0.64" stroke-linejoin="round" >18</text>
<rect x="2424.76" y="2006.00" width="3.00" height="10.80" fill="#000000" />
<text x="2411.84" y="2041.28" font-size="25.80" fill="#666a70" stroke="#666a70" stroke-width="0.64" stroke-linejoin="round" >19</text>
<rect x="2529.90" y="2006.00" width="3.00" height="10.80" fill="#000000" />
<text x="2517.21" y="2041.28" font-size="25.80" fill="#666a70" stroke="#666a70" stroke-width="0.64" stroke-linejoin="round" >20</text>
<rect x="2635.04" y="2006.00" width="3.00" height="10.80" fill="#000000" />
<text x="2622.47" y="2041.28" font-size="25.80" fill="#666a70" stroke="#666a70" stroke-width="0.64" stroke-linejoin="round" >21</text>
<rect x="2740.18" y="2006.00" width="3.00" height="10.80" fill="#000000" />
<text x="2727.63" y="2041.28" font-size="25.80" fill="#666a70" stroke="#666a70" stroke-width="0.64" stroke-linejoin="round" >22</text>
<rect x="2845.32" y="2006.00" width="3.00" height="10.80" fill="#000000" />
<text x="2832.69" y="2041.28" font-size="25.80" fill="#666a70" stroke="#666a70" stroke-width="0.64" stroke-linejoin="round" >23</text>
<rect x="2894.00" y="2004.00" width="3.40" height="13.00" fill="#000000" />
<rect x="2895.00" y="1264.50" width="3.20" height="318.40" fill="#3c7d1f" />
<rect x="2895.00" y="1582.90" width="3.20" height="210.90" fill="#e6c27a" />
<rect x="2895.00" y="1793.80" width="3.20" height="211.70" fill="#a0382b" />
<rect x="2895.00" y="1263.90" width="11.50" height="2.80" fill="#3c7d1f" />
<text x="2911.93" y="1273.89" font-size="25.00" fill="#3c7d1f" stroke="#3c7d1f" stroke-width="0.63" stroke-linejoin="round" >70</text>
<rect x="2895.00" y="1369.60" width="11.50" height="2.80" fill="#3c7d1f" />
<text x="2911.94" y="1379.59" font-size="25.00" fill="#3c7d1f" stroke="#3c7d1f" stroke-width="0.63" stroke-linejoin="round" >60</text>
<rect x="2895.00" y="1475.30" width="11.50" height="2.80" fill="#3c7d1f" />
<text x="2912.21" y="1485.29" font-size="25.00" fill="#3c7d1f" stroke="#3c7d1f" stroke-width="0.63" stroke-linejoin="round" >50</text>
<rect x="2895.00" y="1581.00" width="11.50" height="2.80" fill="#3c7d1f" />
<text x="2912.64" y="1590.99" font-size="25.00" fill="#3c7d1f" stroke="#3c7d1f" stroke-width="0.63" stroke-linejoin="round" >40</text>
<rect x="2895.00" y="1686.70" width="11.50" height="2.80" fill="#e6c27a" />
<text x="2912.26" y="1696.69" font-size="25.00" fill="#e6c27a" stroke="#e6c27a" stroke-width="0.63" stroke-linejoin="round" >30</text>
<rect x="2895.00" y="1792.40" width="11.50" height="2.80" fill="#a0382b" />
<text x="2911.96" y="1802.39" font-size="25.00" fill="#a0382b" stroke="#a0382b" stroke-width="0.63" stroke-linejoin="round" >20</text>
<rect x="2895.00" y="1898.10" width="11.50" height="2.80" fill="#a0382b" />
<text x="2911.31" y="1908.09" font-size="25.00" fill="#a0382b" stroke="#a0382b" stroke-width="0.63" stroke-linejoin="round" >10</text>
<rect x="2895.00" y="2003.80" width="11.50" height="2.80" fill="#a0382b" />
<text x="2912.24" y="2013.79" font-size="25.00" fill="#a0382b" stroke="#a0382b" stroke-width="0.63" stroke-linejoin="round" >0</text>
<path d="M429.10,1305.50 C429.10,1305.50 492.22,1310.42 534.30,1313.00 C576.26,1315.58 597.24,1315.21 639.20,1318.40 C681.36,1321.61 702.44,1325.29 744.60,1329.00 C786.64,1332.69 807.66,1333.18 849.70,1336.90 C891.74,1340.62 912.76,1343.94 954.80,1347.60 C996.84,1351.26 1017.86,1351.00 1059.90,1355.20 C1101.86,1359.40 1122.84,1362.17 1164.80,1368.60 C1206.88,1375.05 1227.92,1381.08 1270.00,1387.40 C1312.08,1393.72 1333.12,1400.20 1375.20,1400.20 C1417.24,1400.20 1438.26,1400.20 1480.30,1400.20 C1522.38,1400.20 1543.42,1381.80 1585.50,1376.40 C1627.46,1371.00 1648.44,1376.25 1690.40,1371.00 C1732.44,1365.73 1795.50,1350.10 1795.50,1350.10" fill="none" stroke="#3b8320" stroke-width="3.4" stroke-linejoin="round"/>
<circle cx="429.10" cy="1305.50" r="3.90" fill="#ffffff" stroke="#3b8320" stroke-width="3.2"/>
<circle cx="534.30" cy="1313.00" r="3.90" fill="#ffffff" stroke="#3b8320" stroke-width="3.2"/>
<circle cx="639.20" cy="1318.40" r="3.90" fill="#ffffff" stroke="#3b8320" stroke-width="3.2"/>
<circle cx="744.60" cy="1329.00" r="3.90" fill="#ffffff" stroke="#3b8320" stroke-width="3.2"/>
<circle cx="849.70" cy="1336.90" r="3.90" fill="#ffffff" stroke="#3b8320" stroke-width="3.2"/>
<circle cx="954.80" cy="1347.60" r="3.90" fill="#ffffff" stroke="#3b8320" stroke-width="3.2"/>
<circle cx="1059.90" cy="1355.20" r="3.90" fill="#ffffff" stroke="#3b8320" stroke-width="3.2"/>
<circle cx="1164.80" cy="1368.60" r="3.90" fill="#ffffff" stroke="#3b8320" stroke-width="3.2"/>
<circle cx="1270.00" cy="1387.40" r="3.90" fill="#ffffff" stroke="#3b8320" stroke-width="3.2"/>
<circle cx="1375.20" cy="1400.20" r="3.90" fill="#ffffff" stroke="#3b8320" stroke-width="3.2"/>
<circle cx="1480.30" cy="1400.20" r="3.90" fill="#ffffff" stroke="#3b8320" stroke-width="3.2"/>
<circle cx="1585.50" cy="1376.40" r="3.90" fill="#ffffff" stroke="#3b8320" stroke-width="3.2"/>
<circle cx="1690.40" cy="1371.00" r="3.90" fill="#ffffff" stroke="#3b8320" stroke-width="3.2"/>
<circle cx="1795.50" cy="1350.10" r="3.90" fill="#ffffff" stroke="#3b8320" stroke-width="3.2"/>
</svg></body></html>
